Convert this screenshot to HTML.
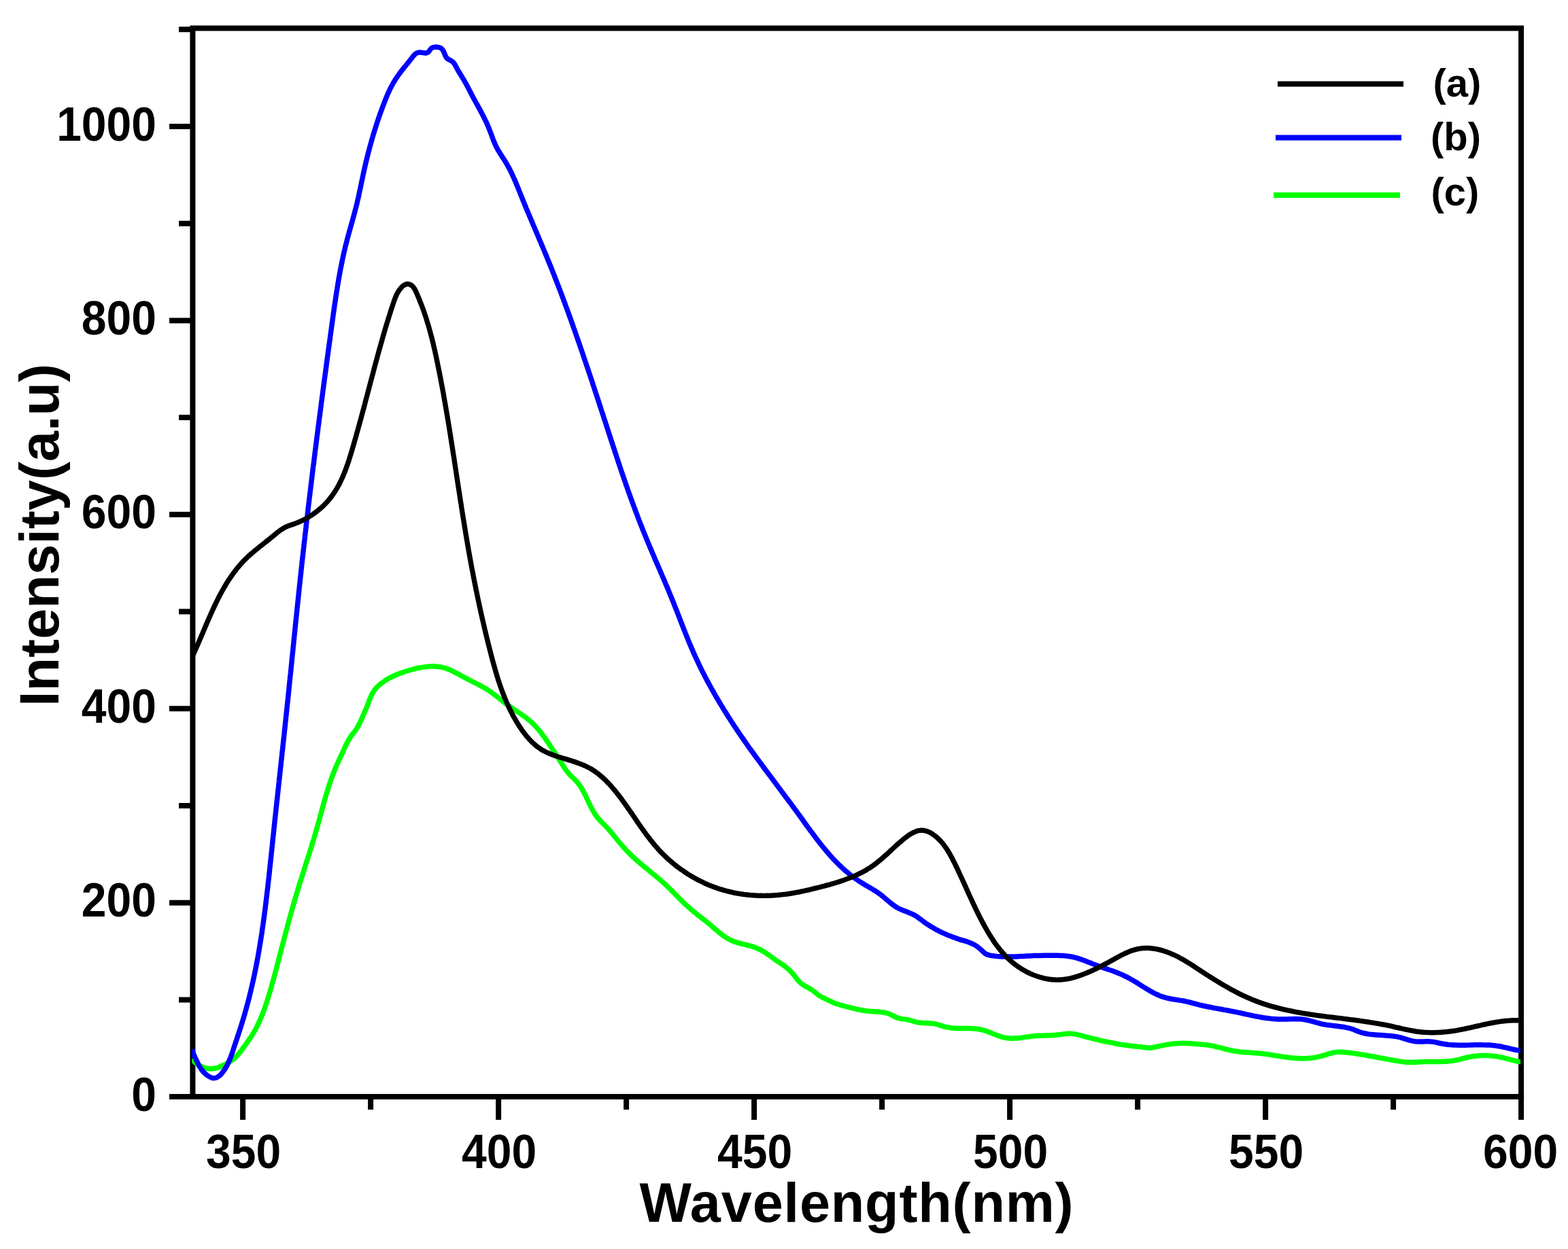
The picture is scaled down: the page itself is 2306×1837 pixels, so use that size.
<!DOCTYPE html>
<html lang="en"><head><meta charset="utf-8"><title>PL spectra</title>
<style>
html,body{margin:0;padding:0;background:#fff;}
body{width:2306px;height:1837px;overflow:hidden;}
svg{display:block;}
text{font-family:"Liberation Sans",sans-serif;font-weight:bold;fill:#000;}
.tick{font-size:69.5px;}
.ttl{font-size:81px;}
.leg{font-size:58px;}
.ax{stroke:#000;stroke-width:8;fill:none;stroke-linecap:butt;}
.c{fill:none;stroke-linejoin:round;stroke-linecap:butt;}
</style></head><body>
<svg width="2306" height="1837" viewBox="0 0 2306 1837">
<rect x="0" y="0" width="2306" height="1837" fill="#fff"/>
<defs><clipPath id="plot"><rect x="282.2" y="41.6" width="1953.9" height="1571.5"/></clipPath></defs>

<path class="ax" d="M283.4 1617.1 V41.6 H2237.1 V1613.1"/>
<path class="ax" d="M249 1613.1 H2241.1"/>
<path class="ax" d="M357.1 1613.1 V1647 M733.1 1613.1 V1647 M1109.1 1613.1 V1647 M1485.1 1613.1 V1647 M1861.1 1613.1 V1647 M2237.1 1613.1 V1647 M545.1 1613.1 V1632 M921.1 1613.1 V1632 M1297.1 1613.1 V1632 M1673.1 1613.1 V1632 M2049.1 1613.1 V1632 M249 1613.1 H283.4 M249 1327.7 H283.4 M249 1042.3 H283.4 M249 756.8 H283.4 M249 471.4 H283.4 M249 186.0 H283.4 M263 1470.4 H283.4 M263 1185.0 H283.4 M263 899.5 H283.4 M263 614.1 H283.4 M263 328.7 H283.4 M263 43.3 H283.4 "/>
<g clip-path="url(#plot)">
<path class="c" stroke="#00ff00" stroke-width="7.5" d="M282.2 1557.5C282.7 1558.1 284.2 1560.0 285.3 1561.2C286.5 1562.4 287.7 1563.5 289.1 1564.5C290.4 1565.5 291.9 1566.4 293.4 1567.3C294.8 1568.1 296.4 1568.8 298.0 1569.5C299.6 1570.1 301.2 1570.6 302.9 1571.0C304.5 1571.4 306.2 1571.7 307.8 1571.8C309.5 1572.0 311.1 1572.0 312.7 1571.8C314.3 1571.7 315.9 1571.4 317.5 1571.0C319.1 1570.6 320.6 1570.0 322.1 1569.4C323.7 1568.9 325.2 1568.2 326.7 1567.5C328.3 1566.8 329.9 1566.1 331.4 1565.4C332.9 1564.7 334.5 1563.9 335.9 1563.1C337.4 1562.3 338.8 1561.4 340.1 1560.4C341.4 1559.4 342.7 1558.4 343.9 1557.3C345.1 1556.2 346.3 1555.1 347.4 1553.9C348.6 1552.7 349.6 1551.5 350.7 1550.2C351.8 1549.0 352.8 1547.7 353.8 1546.4C354.8 1545.1 355.8 1543.7 356.8 1542.4C357.8 1541.0 358.8 1539.7 359.8 1538.3C360.8 1537.0 361.8 1535.6 362.7 1534.3C363.7 1532.9 364.7 1531.5 365.6 1530.1C366.6 1528.8 367.5 1527.4 368.4 1526.0C369.4 1524.6 370.3 1523.2 371.1 1521.7C372.0 1520.3 372.9 1518.9 373.7 1517.4C374.6 1516.0 375.4 1514.5 376.2 1513.1C377.0 1511.6 377.7 1510.1 378.5 1508.6C379.2 1507.2 379.9 1505.7 380.6 1504.2C381.3 1502.7 382.0 1501.1 382.7 1499.6C383.3 1498.1 384.0 1496.6 384.6 1495.0C385.2 1493.5 385.8 1492.0 386.4 1490.4C387.0 1488.9 387.6 1487.3 388.2 1485.7C388.7 1484.2 389.3 1482.6 389.8 1481.1C390.4 1479.5 390.9 1477.9 391.4 1476.3C392.0 1474.8 392.5 1473.2 393.0 1471.6C393.5 1470.0 394.0 1468.4 394.5 1466.8C395.0 1465.2 395.4 1463.7 395.9 1462.1C396.4 1460.5 396.9 1458.9 397.4 1457.3C397.8 1455.7 398.3 1454.1 398.8 1452.5C399.2 1450.9 399.7 1449.3 400.1 1447.7C400.6 1446.1 401.0 1444.5 401.5 1442.9C401.9 1441.3 402.4 1439.7 402.8 1438.0C403.2 1436.4 403.7 1434.8 404.1 1433.2C404.5 1431.6 405.0 1430.0 405.4 1428.4C405.8 1426.8 406.2 1425.2 406.7 1423.6C407.1 1421.9 407.5 1420.3 407.9 1418.7C408.4 1417.1 408.8 1415.5 409.2 1413.9C409.6 1412.3 410.0 1410.6 410.5 1409.0C410.9 1407.4 411.3 1405.8 411.7 1404.2C412.1 1402.6 412.5 1401.0 413.0 1399.3C413.4 1397.7 413.8 1396.1 414.2 1394.5C414.6 1392.9 415.1 1391.3 415.5 1389.7C415.9 1388.0 416.3 1386.4 416.8 1384.8C417.2 1383.2 417.6 1381.6 418.0 1380.0C418.5 1378.4 418.9 1376.8 419.3 1375.1C419.7 1373.5 420.2 1371.9 420.6 1370.3C421.0 1368.7 421.4 1367.1 421.9 1365.5C422.3 1363.9 422.7 1362.3 423.2 1360.6C423.6 1359.0 424.0 1357.4 424.5 1355.8C424.9 1354.2 425.4 1352.6 425.8 1351.0C426.2 1349.4 426.7 1347.8 427.1 1346.2C427.6 1344.6 428.0 1343.0 428.5 1341.4C428.9 1339.8 429.4 1338.2 429.8 1336.6C430.3 1334.9 430.7 1333.3 431.2 1331.7C431.6 1330.1 432.1 1328.5 432.6 1326.9C433.0 1325.3 433.5 1323.7 434.0 1322.1C434.4 1320.5 434.9 1318.9 435.4 1317.3C435.8 1315.8 436.3 1314.2 436.8 1312.6C437.3 1311.0 437.8 1309.4 438.2 1307.8C438.7 1306.2 439.2 1304.6 439.7 1303.0C440.2 1301.4 440.7 1299.8 441.2 1298.2C441.7 1296.6 442.2 1295.0 442.7 1293.5C443.2 1291.9 443.7 1290.3 444.2 1288.7C444.7 1287.1 445.2 1285.5 445.7 1283.9C446.2 1282.3 446.7 1280.8 447.2 1279.2C447.7 1277.6 448.2 1276.0 448.7 1274.4C449.2 1272.8 449.7 1271.2 450.2 1269.6C450.7 1268.1 451.2 1266.5 451.8 1264.9C452.3 1263.3 452.8 1261.7 453.3 1260.1C453.8 1258.5 454.3 1256.9 454.8 1255.4C455.3 1253.8 455.8 1252.2 456.3 1250.6C456.8 1249.0 457.3 1247.4 457.8 1245.8C458.3 1244.2 458.8 1242.6 459.2 1241.0C459.7 1239.4 460.2 1237.9 460.7 1236.3C461.2 1234.7 461.7 1233.1 462.2 1231.5C462.6 1229.9 463.1 1228.3 463.6 1226.7C464.1 1225.1 464.5 1223.5 465.0 1221.9C465.5 1220.3 465.9 1218.7 466.4 1217.1C466.8 1215.5 467.3 1213.9 467.7 1212.2C468.2 1210.6 468.6 1209.0 469.1 1207.4C469.5 1205.8 469.9 1204.2 470.4 1202.6C470.8 1201.0 471.3 1199.4 471.7 1197.8C472.1 1196.1 472.6 1194.5 473.0 1192.9C473.4 1191.3 473.9 1189.7 474.3 1188.1C474.7 1186.5 475.2 1184.9 475.6 1183.3C476.1 1181.7 476.5 1180.0 477.0 1178.4C477.4 1176.8 477.9 1175.2 478.3 1173.6C478.8 1172.0 479.3 1170.4 479.7 1168.8C480.2 1167.2 480.7 1165.6 481.2 1164.0C481.6 1162.5 482.1 1160.9 482.6 1159.3C483.1 1157.7 483.6 1156.1 484.2 1154.5C484.7 1152.9 485.2 1151.4 485.7 1149.8C486.3 1148.2 486.8 1146.7 487.4 1145.1C487.9 1143.5 488.5 1142.0 489.1 1140.4C489.7 1138.9 490.3 1137.3 490.9 1135.8C491.5 1134.2 492.1 1132.7 492.7 1131.1C493.4 1129.6 494.0 1128.1 494.7 1126.5C495.4 1125.0 496.0 1123.5 496.7 1122.0C497.4 1120.5 498.1 1118.9 498.8 1117.4C499.5 1115.9 500.2 1114.4 500.9 1112.9C501.6 1111.4 502.3 1109.9 503.0 1108.3C503.7 1106.8 504.4 1105.3 505.1 1103.8C505.8 1102.3 506.5 1100.7 507.2 1099.2C507.9 1097.7 508.6 1096.2 509.3 1094.7C510.1 1093.2 510.8 1091.7 511.6 1090.2C512.4 1088.8 513.2 1087.3 514.1 1085.9C515.0 1084.5 515.9 1083.2 516.9 1081.8C517.9 1080.5 518.9 1079.2 519.9 1077.9C521.0 1076.6 522.0 1075.3 523.0 1073.9C523.9 1072.6 524.8 1071.2 525.7 1069.8C526.5 1068.4 527.3 1066.9 528.0 1065.4C528.8 1064.0 529.5 1062.5 530.2 1060.9C530.9 1059.4 531.5 1057.9 532.2 1056.4C532.9 1054.8 533.5 1053.3 534.2 1051.8C534.9 1050.2 535.6 1048.7 536.3 1047.2C536.9 1045.6 537.6 1044.1 538.3 1042.6C538.9 1041.1 539.6 1039.5 540.2 1038.0C540.8 1036.4 541.4 1034.8 542.0 1033.3C542.5 1031.7 543.1 1030.2 543.7 1028.6C544.3 1027.1 545.0 1025.6 545.6 1024.1C546.3 1022.6 547.0 1021.1 547.8 1019.7C548.6 1018.3 549.4 1016.8 550.4 1015.5C551.4 1014.1 552.4 1012.8 553.5 1011.6C554.7 1010.3 555.9 1009.1 557.2 1008.0C558.5 1006.8 559.9 1005.7 561.2 1004.7C562.6 1003.7 564.0 1002.7 565.4 1001.7C566.8 1000.8 568.2 999.9 569.6 999.1C571.0 998.2 572.5 997.4 573.9 996.7C575.4 995.9 576.8 995.2 578.3 994.5C579.8 993.8 581.2 993.1 582.7 992.5C584.2 991.9 585.7 991.3 587.3 990.7C588.8 990.1 590.3 989.6 591.9 989.1C593.4 988.5 595.0 988.0 596.6 987.5C598.2 987.0 599.8 986.5 601.4 986.1C603.0 985.6 604.7 985.1 606.3 984.7C608.0 984.2 609.6 983.8 611.3 983.4C613.0 983.0 614.6 982.6 616.3 982.3C618.0 982.0 619.7 981.6 621.4 981.4C623.1 981.1 624.8 980.9 626.5 980.7C628.2 980.5 629.8 980.3 631.5 980.2C633.2 980.1 634.9 980.1 636.6 980.1C638.2 980.1 639.9 980.1 641.5 980.2C643.2 980.4 644.8 980.5 646.4 980.8C648.0 981.0 649.6 981.3 651.2 981.7C652.8 982.1 654.4 982.6 655.9 983.1C657.5 983.6 659.0 984.2 660.5 984.8C662.0 985.4 663.5 986.1 665.0 986.8C666.5 987.5 668.0 988.3 669.5 989.1C671.0 989.8 672.4 990.6 673.9 991.4C675.4 992.2 676.9 993.0 678.3 993.9C679.8 994.7 681.3 995.5 682.8 996.3C684.3 997.1 685.7 997.8 687.2 998.6C688.7 999.4 690.2 1000.1 691.7 1000.9C693.2 1001.6 694.7 1002.4 696.2 1003.1C697.7 1003.9 699.2 1004.6 700.7 1005.4C702.2 1006.1 703.7 1006.9 705.2 1007.7C706.6 1008.5 708.1 1009.2 709.5 1010.0C711.0 1010.9 712.4 1011.7 713.8 1012.5C715.2 1013.4 716.6 1014.2 718.0 1015.1C719.4 1016.0 720.8 1017.0 722.1 1017.9C723.4 1018.9 724.8 1019.9 726.1 1020.9C727.4 1021.9 728.7 1022.9 730.0 1023.9C731.3 1024.9 732.6 1026.0 733.9 1027.0C735.2 1028.0 736.5 1029.1 737.8 1030.1C739.1 1031.1 740.4 1032.2 741.8 1033.2C743.1 1034.2 744.4 1035.2 745.7 1036.2C747.1 1037.2 748.5 1038.1 749.8 1039.1C751.2 1040.1 752.6 1041.0 754.0 1042.0C755.3 1042.9 756.7 1043.8 758.1 1044.8C759.5 1045.7 760.9 1046.6 762.3 1047.6C763.7 1048.5 765.0 1049.5 766.4 1050.4C767.8 1051.4 769.1 1052.3 770.5 1053.3C771.8 1054.3 773.2 1055.3 774.5 1056.3C775.8 1057.3 777.1 1058.3 778.3 1059.4C779.6 1060.5 780.9 1061.6 782.1 1062.7C783.3 1063.8 784.5 1064.9 785.6 1066.1C786.8 1067.3 787.9 1068.5 789.0 1069.8C790.1 1071.0 791.2 1072.2 792.3 1073.5C793.3 1074.8 794.4 1076.1 795.4 1077.4C796.4 1078.7 797.4 1080.1 798.4 1081.4C799.4 1082.8 800.4 1084.1 801.3 1085.5C802.3 1086.8 803.3 1088.2 804.2 1089.6C805.2 1091.0 806.1 1092.3 807.0 1093.7C808.0 1095.1 808.9 1096.5 809.8 1097.8C810.8 1099.2 811.7 1100.6 812.6 1102.0C813.5 1103.4 814.4 1104.7 815.4 1106.1C816.3 1107.5 817.2 1108.9 818.1 1110.3C819.0 1111.7 819.9 1113.1 820.8 1114.5C821.6 1115.9 822.5 1117.3 823.4 1118.7C824.3 1120.1 825.2 1121.5 826.1 1122.9C827.0 1124.3 827.8 1125.8 828.7 1127.2C829.6 1128.6 830.5 1130.0 831.5 1131.3C832.5 1132.7 833.4 1134.0 834.5 1135.3C835.5 1136.6 836.6 1137.9 837.7 1139.1C838.8 1140.4 840.1 1141.5 841.3 1142.7C842.5 1143.9 843.8 1145.0 844.9 1146.2C846.1 1147.3 847.3 1148.5 848.4 1149.8C849.5 1151.0 850.5 1152.3 851.5 1153.7C852.5 1155.0 853.4 1156.3 854.3 1157.7C855.2 1159.1 856.0 1160.6 856.8 1162.0C857.6 1163.4 858.4 1164.9 859.2 1166.4C859.9 1167.9 860.7 1169.4 861.4 1170.9C862.1 1172.4 862.9 1173.9 863.6 1175.4C864.3 1176.9 865.0 1178.5 865.7 1180.0C866.4 1181.5 867.2 1183.0 867.9 1184.5C868.6 1186.0 869.4 1187.5 870.2 1189.0C871.0 1190.5 871.7 1191.9 872.6 1193.4C873.4 1194.8 874.3 1196.2 875.2 1197.6C876.1 1198.9 877.1 1200.3 878.1 1201.6C879.1 1202.9 880.2 1204.2 881.3 1205.4C882.4 1206.7 883.6 1207.8 884.7 1209.0C885.9 1210.2 887.1 1211.4 888.3 1212.6C889.5 1213.8 890.7 1215.0 891.8 1216.2C892.9 1217.4 894.0 1218.7 895.1 1219.9C896.3 1221.2 897.3 1222.4 898.4 1223.7C899.5 1225.0 900.5 1226.3 901.6 1227.6C902.7 1228.9 903.7 1230.2 904.7 1231.4C905.8 1232.7 906.8 1234.0 907.9 1235.3C908.9 1236.6 910.0 1237.9 911.0 1239.2C912.1 1240.5 913.2 1241.7 914.3 1243.0C915.3 1244.3 916.4 1245.5 917.6 1246.7C918.7 1248.0 919.8 1249.2 921.0 1250.4C922.1 1251.6 923.3 1252.8 924.4 1254.0C925.6 1255.2 926.8 1256.3 928.0 1257.5C929.2 1258.6 930.4 1259.8 931.6 1260.9C932.9 1262.1 934.1 1263.2 935.3 1264.3C936.6 1265.4 937.8 1266.5 939.1 1267.6C940.3 1268.7 941.6 1269.8 942.9 1270.9C944.1 1272.0 945.4 1273.0 946.7 1274.1C948.0 1275.2 949.3 1276.2 950.6 1277.3C951.8 1278.3 953.1 1279.4 954.4 1280.4C955.7 1281.5 957.0 1282.5 958.3 1283.6C959.6 1284.6 960.9 1285.7 962.1 1286.7C963.4 1287.8 964.7 1288.9 966.0 1289.9C967.3 1291.0 968.5 1292.0 969.8 1293.1C971.1 1294.2 972.3 1295.3 973.6 1296.4C974.8 1297.5 976.1 1298.6 977.3 1299.7C978.5 1300.8 979.7 1302.0 980.9 1303.1C982.1 1304.3 983.3 1305.4 984.5 1306.6C985.7 1307.8 986.9 1308.9 988.1 1310.1C989.2 1311.3 990.4 1312.5 991.6 1313.7C992.7 1314.9 993.9 1316.1 995.1 1317.3C996.2 1318.5 997.4 1319.7 998.6 1320.8C999.8 1322.0 1000.9 1323.2 1002.1 1324.4C1003.3 1325.6 1004.5 1326.7 1005.7 1327.9C1006.9 1329.0 1008.1 1330.2 1009.3 1331.3C1010.5 1332.4 1011.7 1333.5 1013.0 1334.6C1014.2 1335.7 1015.5 1336.8 1016.7 1337.9C1018.0 1338.9 1019.3 1340.0 1020.5 1341.0C1021.8 1342.1 1023.1 1343.1 1024.4 1344.1C1025.7 1345.2 1027.0 1346.2 1028.3 1347.2C1029.6 1348.2 1030.9 1349.3 1032.2 1350.3C1033.5 1351.3 1034.9 1352.3 1036.2 1353.4C1037.5 1354.4 1038.8 1355.4 1040.1 1356.5C1041.4 1357.5 1042.6 1358.6 1043.9 1359.7C1045.2 1360.8 1046.5 1361.9 1047.8 1362.9C1049.0 1364.0 1050.3 1365.2 1051.6 1366.3C1052.8 1367.4 1054.1 1368.5 1055.4 1369.5C1056.7 1370.6 1058.0 1371.7 1059.3 1372.7C1060.6 1373.8 1061.9 1374.8 1063.2 1375.8C1064.6 1376.7 1065.9 1377.7 1067.3 1378.6C1068.7 1379.5 1070.1 1380.3 1071.5 1381.1C1073.0 1381.9 1074.4 1382.7 1075.9 1383.4C1077.4 1384.0 1079.0 1384.6 1080.5 1385.2C1082.1 1385.7 1083.7 1386.2 1085.3 1386.7C1086.9 1387.2 1088.5 1387.6 1090.2 1388.0C1091.8 1388.4 1093.5 1388.8 1095.1 1389.2C1096.8 1389.6 1098.4 1389.9 1100.0 1390.4C1101.7 1390.8 1103.3 1391.2 1104.9 1391.6C1106.5 1392.1 1108.0 1392.6 1109.6 1393.1C1111.1 1393.7 1112.6 1394.2 1114.1 1394.9C1115.6 1395.5 1117.1 1396.2 1118.5 1397.0C1120.0 1397.7 1121.4 1398.5 1122.8 1399.4C1124.2 1400.3 1125.6 1401.2 1127.0 1402.1C1128.4 1403.1 1129.7 1404.1 1131.1 1405.0C1132.5 1406.0 1133.8 1407.0 1135.2 1408.0C1136.6 1409.0 1138.0 1410.0 1139.3 1411.0C1140.7 1412.0 1142.1 1412.9 1143.5 1413.8C1144.9 1414.8 1146.3 1415.7 1147.7 1416.6C1149.1 1417.5 1150.4 1418.4 1151.8 1419.4C1153.1 1420.3 1154.5 1421.3 1155.8 1422.3C1157.1 1423.4 1158.3 1424.5 1159.5 1425.6C1160.8 1426.7 1161.9 1427.9 1163.1 1429.1C1164.3 1430.3 1165.4 1431.6 1166.5 1432.8C1167.6 1434.1 1168.6 1435.4 1169.7 1436.7C1170.7 1438.0 1171.7 1439.4 1172.7 1440.7C1173.8 1441.9 1174.8 1443.2 1176.0 1444.3C1177.2 1445.5 1178.4 1446.5 1179.8 1447.5C1181.1 1448.4 1182.5 1449.3 1183.9 1450.2C1185.3 1451.0 1186.8 1451.8 1188.3 1452.6C1189.7 1453.5 1191.2 1454.2 1192.6 1455.1C1194.0 1456.0 1195.4 1456.9 1196.7 1457.9C1198.0 1458.9 1199.2 1460.0 1200.5 1461.0C1201.8 1462.1 1203.0 1463.1 1204.4 1464.0C1205.7 1464.9 1207.1 1465.8 1208.5 1466.5C1210.0 1467.3 1211.5 1467.9 1213.0 1468.6C1214.4 1469.4 1216.0 1470.0 1217.5 1470.8C1219.0 1471.5 1220.5 1472.2 1222.0 1472.9C1223.5 1473.6 1225.0 1474.3 1226.5 1475.0C1228.1 1475.6 1229.6 1476.2 1231.2 1476.7C1232.8 1477.2 1234.4 1477.6 1236.0 1478.1C1237.6 1478.6 1239.2 1479.0 1240.8 1479.4C1242.4 1479.8 1244.0 1480.3 1245.6 1480.7C1247.2 1481.1 1248.8 1481.5 1250.4 1481.9C1252.1 1482.4 1253.7 1482.8 1255.3 1483.1C1256.9 1483.5 1258.6 1483.9 1260.2 1484.3C1261.8 1484.6 1263.5 1485.0 1265.1 1485.3C1266.7 1485.6 1268.4 1485.9 1270.0 1486.2C1271.6 1486.4 1273.3 1486.7 1274.9 1486.9C1276.6 1487.1 1278.2 1487.2 1279.9 1487.4C1281.6 1487.5 1283.2 1487.6 1284.9 1487.7C1286.5 1487.8 1288.2 1487.9 1289.8 1488.0C1291.5 1488.1 1293.1 1488.2 1294.7 1488.4C1296.4 1488.5 1298.0 1488.7 1299.6 1489.0C1301.2 1489.3 1302.8 1489.6 1304.4 1490.1C1305.9 1490.6 1307.5 1491.1 1309.0 1491.8C1310.5 1492.4 1312.0 1493.3 1313.5 1494.0C1315.0 1494.8 1316.5 1495.7 1318.0 1496.3C1319.6 1497.0 1321.1 1497.5 1322.7 1497.9C1324.3 1498.3 1326.0 1498.4 1327.6 1498.7C1329.2 1498.9 1330.9 1499.0 1332.6 1499.3C1334.2 1499.6 1335.8 1499.9 1337.4 1500.3C1339.0 1500.7 1340.6 1501.3 1342.2 1501.7C1343.8 1502.2 1345.4 1502.7 1347.0 1503.1C1348.6 1503.5 1350.2 1503.8 1351.8 1504.0C1353.4 1504.2 1355.0 1504.4 1356.6 1504.5C1358.2 1504.6 1359.8 1504.7 1361.5 1504.7C1363.1 1504.8 1364.7 1504.8 1366.3 1504.9C1368.0 1505.0 1369.6 1505.1 1371.2 1505.3C1372.8 1505.5 1374.4 1505.7 1376.0 1506.1C1377.6 1506.4 1379.2 1506.9 1380.8 1507.4C1382.4 1507.9 1384.0 1508.5 1385.7 1509.0C1387.3 1509.5 1388.9 1510.0 1390.5 1510.4C1392.1 1510.8 1393.7 1511.1 1395.4 1511.3C1397.0 1511.6 1398.7 1511.8 1400.3 1512.0C1402.0 1512.1 1403.6 1512.2 1405.3 1512.3C1406.9 1512.4 1408.6 1512.4 1410.3 1512.5C1411.9 1512.5 1413.6 1512.5 1415.3 1512.5C1416.9 1512.5 1418.6 1512.5 1420.3 1512.5C1421.9 1512.5 1423.6 1512.5 1425.3 1512.6C1426.9 1512.6 1428.6 1512.6 1430.2 1512.7C1431.9 1512.8 1433.5 1512.9 1435.2 1513.1C1436.8 1513.3 1438.5 1513.5 1440.1 1513.8C1441.7 1514.1 1443.3 1514.4 1444.9 1514.8C1446.5 1515.2 1448.1 1515.7 1449.7 1516.2C1451.3 1516.8 1452.9 1517.4 1454.5 1518.0C1456.0 1518.6 1457.6 1519.2 1459.2 1519.9C1460.8 1520.5 1462.3 1521.2 1463.9 1521.8C1465.5 1522.4 1467.0 1523.0 1468.6 1523.6C1470.2 1524.2 1471.8 1524.7 1473.4 1525.2C1475.0 1525.6 1476.6 1526.0 1478.2 1526.3C1479.8 1526.6 1481.4 1526.8 1483.0 1527.0C1484.7 1527.1 1486.3 1527.2 1488.0 1527.2C1489.6 1527.2 1491.3 1527.2 1493.0 1527.1C1494.6 1527.0 1496.3 1526.9 1498.0 1526.7C1499.6 1526.5 1501.3 1526.3 1503.0 1526.1C1504.7 1525.9 1506.3 1525.7 1508.0 1525.4C1509.7 1525.2 1511.4 1525.0 1513.1 1524.7C1514.7 1524.5 1516.4 1524.3 1518.1 1524.1C1519.8 1523.9 1521.4 1523.8 1523.1 1523.6C1524.7 1523.5 1526.4 1523.4 1528.0 1523.3C1529.7 1523.3 1531.3 1523.2 1533.0 1523.2C1534.6 1523.1 1536.3 1523.1 1537.9 1523.0C1539.6 1523.0 1541.2 1522.9 1542.8 1522.9C1544.5 1522.8 1546.1 1522.8 1547.7 1522.6C1549.4 1522.5 1551.0 1522.4 1552.7 1522.3C1554.3 1522.1 1556.0 1521.9 1557.6 1521.7C1559.2 1521.5 1560.9 1521.3 1562.5 1521.1C1564.2 1520.8 1565.8 1520.6 1567.5 1520.5C1569.1 1520.3 1570.7 1520.2 1572.4 1520.2C1574.0 1520.2 1575.7 1520.2 1577.3 1520.4C1578.9 1520.5 1580.6 1520.8 1582.2 1521.1C1583.8 1521.5 1585.4 1521.9 1587.1 1522.3C1588.7 1522.7 1590.3 1523.2 1591.9 1523.6C1593.5 1524.0 1595.2 1524.4 1596.8 1524.9C1598.4 1525.3 1600.0 1525.7 1601.6 1526.1C1603.3 1526.5 1604.9 1526.9 1606.5 1527.3C1608.1 1527.7 1609.7 1528.1 1611.4 1528.5C1613.0 1528.9 1614.6 1529.3 1616.2 1529.7C1617.9 1530.0 1619.5 1530.4 1621.1 1530.8C1622.7 1531.2 1624.4 1531.5 1626.0 1531.9C1627.6 1532.2 1629.2 1532.6 1630.9 1532.9C1632.5 1533.2 1634.1 1533.6 1635.8 1533.9C1637.4 1534.2 1639.0 1534.5 1640.7 1534.8C1642.3 1535.1 1643.9 1535.4 1645.6 1535.7C1647.2 1536.0 1648.9 1536.2 1650.5 1536.5C1652.1 1536.7 1653.8 1537.0 1655.4 1537.2C1657.1 1537.5 1658.8 1537.7 1660.4 1537.9C1662.1 1538.1 1663.7 1538.3 1665.4 1538.5C1667.0 1538.7 1668.7 1538.8 1670.4 1539.0C1672.0 1539.2 1673.7 1539.3 1675.4 1539.5C1677.0 1539.7 1678.7 1539.9 1680.3 1540.2C1682.0 1540.4 1683.6 1540.7 1685.2 1540.8C1686.9 1541.0 1688.5 1541.2 1690.1 1541.2C1691.7 1541.1 1693.3 1541.0 1694.9 1540.7C1696.5 1540.5 1698.1 1540.1 1699.7 1539.7C1701.3 1539.4 1702.9 1539.0 1704.5 1538.7C1706.1 1538.3 1707.8 1538.0 1709.4 1537.7C1711.0 1537.3 1712.7 1537.0 1714.3 1536.7C1716.0 1536.5 1717.6 1536.2 1719.3 1535.9C1720.9 1535.7 1722.6 1535.5 1724.2 1535.3C1725.9 1535.1 1727.5 1534.9 1729.2 1534.8C1730.9 1534.6 1732.5 1534.5 1734.2 1534.5C1735.8 1534.4 1737.5 1534.3 1739.1 1534.3C1740.8 1534.3 1742.4 1534.3 1744.1 1534.4C1745.7 1534.5 1747.4 1534.6 1749.0 1534.7C1750.7 1534.8 1752.3 1534.9 1754.0 1535.0C1755.6 1535.1 1757.3 1535.3 1758.9 1535.4C1760.6 1535.6 1762.2 1535.7 1763.9 1535.8C1765.5 1536.0 1767.2 1536.1 1768.9 1536.3C1770.5 1536.4 1772.2 1536.6 1773.8 1536.8C1775.5 1537.0 1777.1 1537.2 1778.8 1537.5C1780.4 1537.7 1782.1 1538.1 1783.7 1538.4C1785.3 1538.7 1786.9 1539.1 1788.6 1539.5C1790.2 1539.9 1791.8 1540.3 1793.4 1540.7C1795.0 1541.1 1796.6 1541.5 1798.3 1541.9C1799.9 1542.3 1801.5 1542.8 1803.1 1543.2C1804.7 1543.6 1806.3 1544.0 1807.9 1544.3C1809.6 1544.7 1811.2 1545.0 1812.8 1545.4C1814.4 1545.7 1816.1 1546.0 1817.7 1546.2C1819.3 1546.5 1821.0 1546.7 1822.6 1546.9C1824.3 1547.1 1825.9 1547.2 1827.6 1547.4C1829.2 1547.5 1830.9 1547.7 1832.5 1547.8C1834.2 1547.9 1835.9 1548.0 1837.5 1548.1C1839.2 1548.3 1840.8 1548.4 1842.5 1548.5C1844.2 1548.6 1845.8 1548.7 1847.5 1548.8C1849.1 1549.0 1850.8 1549.1 1852.5 1549.3C1854.1 1549.4 1855.8 1549.6 1857.4 1549.8C1859.1 1550.0 1860.7 1550.2 1862.4 1550.4C1864.0 1550.6 1865.7 1550.9 1867.3 1551.1C1869.0 1551.4 1870.6 1551.6 1872.3 1551.9C1873.9 1552.2 1875.5 1552.4 1877.2 1552.7C1878.8 1553.0 1880.5 1553.2 1882.1 1553.5C1883.8 1553.8 1885.4 1554.0 1887.1 1554.3C1888.7 1554.5 1890.4 1554.8 1892.0 1555.0C1893.7 1555.2 1895.3 1555.4 1897.0 1555.6C1898.7 1555.8 1900.3 1555.9 1902.0 1556.1C1903.6 1556.2 1905.3 1556.4 1907.0 1556.5C1908.6 1556.6 1910.3 1556.6 1912.0 1556.7C1913.6 1556.7 1915.3 1556.7 1917.0 1556.7C1918.6 1556.7 1920.3 1556.6 1921.9 1556.6C1923.6 1556.5 1925.3 1556.3 1926.9 1556.2C1928.6 1556.0 1930.2 1555.8 1931.8 1555.6C1933.5 1555.4 1935.1 1555.1 1936.8 1554.8C1938.4 1554.5 1940.0 1554.1 1941.6 1553.7C1943.2 1553.3 1944.9 1552.8 1946.5 1552.3C1948.1 1551.9 1949.7 1551.3 1951.3 1550.8C1952.9 1550.3 1954.5 1549.8 1956.1 1549.4C1957.7 1548.9 1959.3 1548.5 1960.9 1548.2C1962.5 1547.8 1964.1 1547.6 1965.7 1547.4C1967.3 1547.2 1969.0 1547.2 1970.6 1547.2C1972.3 1547.2 1973.9 1547.3 1975.6 1547.4C1977.2 1547.5 1978.9 1547.7 1980.5 1547.9C1982.1 1548.1 1983.8 1548.3 1985.4 1548.5C1987.1 1548.7 1988.7 1548.9 1990.4 1549.1C1992.0 1549.4 1993.6 1549.6 1995.3 1549.9C1996.9 1550.1 1998.6 1550.4 2000.2 1550.6C2001.8 1550.9 2003.5 1551.1 2005.1 1551.4C2006.7 1551.7 2008.4 1552.0 2010.0 1552.3C2011.6 1552.6 2013.3 1552.8 2014.9 1553.1C2016.5 1553.4 2018.2 1553.7 2019.8 1554.0C2021.4 1554.4 2023.1 1554.7 2024.7 1555.0C2026.3 1555.3 2028.0 1555.6 2029.6 1555.9C2031.3 1556.2 2032.9 1556.5 2034.5 1556.8C2036.2 1557.1 2037.8 1557.4 2039.4 1557.8C2041.1 1558.1 2042.7 1558.4 2044.4 1558.6C2046.0 1558.9 2047.7 1559.2 2049.3 1559.5C2050.9 1559.8 2052.6 1560.1 2054.2 1560.3C2055.9 1560.6 2057.5 1560.9 2059.2 1561.1C2060.8 1561.4 2062.5 1561.6 2064.1 1561.8C2065.8 1562.0 2067.4 1562.2 2069.0 1562.3C2070.7 1562.4 2072.3 1562.5 2073.9 1562.6C2075.6 1562.6 2077.2 1562.6 2078.8 1562.5C2080.4 1562.5 2082.0 1562.3 2083.7 1562.2C2085.3 1562.1 2086.9 1561.9 2088.5 1561.8C2090.1 1561.7 2091.8 1561.6 2093.4 1561.6C2095.1 1561.5 2096.7 1561.5 2098.4 1561.5C2100.0 1561.5 2101.7 1561.5 2103.4 1561.5C2105.0 1561.5 2106.7 1561.5 2108.4 1561.5C2110.0 1561.5 2111.7 1561.5 2113.4 1561.5C2115.0 1561.5 2116.7 1561.5 2118.4 1561.4C2120.1 1561.4 2121.7 1561.4 2123.4 1561.3C2125.1 1561.2 2126.7 1561.2 2128.4 1561.0C2130.1 1560.9 2131.7 1560.8 2133.4 1560.6C2135.0 1560.4 2136.7 1560.2 2138.3 1559.9C2139.9 1559.6 2141.6 1559.3 2143.2 1558.9C2144.8 1558.6 2146.4 1558.2 2148.0 1557.8C2149.7 1557.3 2151.3 1556.9 2152.9 1556.5C2154.5 1556.1 2156.1 1555.6 2157.7 1555.3C2159.4 1554.9 2161.0 1554.6 2162.7 1554.3C2164.3 1554.0 2165.9 1553.7 2167.6 1553.5C2169.3 1553.3 2170.9 1553.1 2172.6 1552.9C2174.2 1552.8 2175.9 1552.7 2177.6 1552.6C2179.2 1552.5 2180.9 1552.5 2182.6 1552.5C2184.2 1552.5 2185.9 1552.5 2187.6 1552.6C2189.3 1552.6 2190.9 1552.7 2192.6 1552.9C2194.2 1553.0 2195.9 1553.2 2197.6 1553.4C2199.2 1553.6 2200.9 1553.8 2202.5 1554.1C2204.1 1554.4 2205.8 1554.7 2207.4 1555.0C2209.0 1555.3 2210.6 1555.7 2212.2 1556.1C2213.9 1556.5 2215.5 1556.9 2217.1 1557.3C2218.7 1557.7 2220.3 1558.2 2221.9 1558.6C2223.5 1559.0 2225.1 1559.4 2226.7 1559.8C2228.3 1560.2 2229.9 1560.6 2231.5 1561.0C2233.1 1561.3 2235.4 1561.7 2236.4 1561.9C2237.3 1562.1 2236.9 1562.0 2237.0 1562.0"/>
<path class="c" stroke="#0000ff" stroke-width="7.5" d="M282.2 1543.0C282.4 1543.8 283.1 1546.1 283.7 1547.6C284.3 1549.2 284.9 1550.8 285.6 1552.4C286.3 1553.9 287.0 1555.5 287.7 1557.1C288.4 1558.6 289.2 1560.2 289.9 1561.7C290.6 1563.2 291.3 1564.6 292.1 1566.0C292.8 1567.5 293.5 1568.8 294.4 1570.2C295.2 1571.5 296.1 1572.8 297.1 1574.1C298.1 1575.4 299.2 1576.7 300.5 1578.0C301.8 1579.2 303.2 1580.5 304.7 1581.6C306.2 1582.7 307.8 1583.7 309.4 1584.4C310.9 1585.1 312.6 1585.6 314.1 1585.7C315.6 1585.8 317.1 1585.5 318.5 1584.9C319.9 1584.4 321.2 1583.4 322.5 1582.4C323.7 1581.4 324.9 1580.1 326.0 1578.8C327.1 1577.5 328.1 1576.1 329.1 1574.8C330.1 1573.4 331.0 1572.0 331.9 1570.5C332.7 1569.1 333.5 1567.7 334.3 1566.2C335.0 1564.7 335.7 1563.2 336.4 1561.7C337.1 1560.2 337.7 1558.7 338.4 1557.1C339.0 1555.6 339.5 1554.0 340.1 1552.4C340.7 1550.9 341.2 1549.3 341.8 1547.7C342.3 1546.1 342.8 1544.6 343.3 1543.0C343.9 1541.4 344.4 1539.8 344.9 1538.2C345.4 1536.6 346.0 1535.0 346.5 1533.4C347.0 1531.9 347.5 1530.3 348.1 1528.7C348.6 1527.1 349.1 1525.5 349.7 1523.9C350.2 1522.3 350.7 1520.7 351.2 1519.2C351.7 1517.6 352.3 1516.0 352.8 1514.4C353.3 1512.8 353.8 1511.2 354.3 1509.6C354.8 1508.0 355.3 1506.4 355.8 1504.8C356.3 1503.2 356.8 1501.7 357.3 1500.1C357.8 1498.5 358.3 1496.9 358.7 1495.3C359.2 1493.7 359.7 1492.1 360.1 1490.5C360.6 1488.9 361.0 1487.3 361.5 1485.7C361.9 1484.1 362.4 1482.4 362.8 1480.8C363.3 1479.2 363.7 1477.6 364.1 1476.0C364.6 1474.4 365.0 1472.8 365.4 1471.2C365.8 1469.6 366.2 1468.0 366.6 1466.3C367.0 1464.7 367.4 1463.1 367.8 1461.5C368.2 1459.9 368.6 1458.3 369.0 1456.7C369.4 1455.0 369.8 1453.4 370.1 1451.8C370.5 1450.2 370.9 1448.6 371.2 1446.9C371.6 1445.3 372.0 1443.7 372.3 1442.1C372.7 1440.4 373.0 1438.8 373.4 1437.2C373.7 1435.6 374.1 1433.9 374.4 1432.3C374.7 1430.7 375.1 1429.0 375.4 1427.4C375.7 1425.8 376.1 1424.2 376.4 1422.5C376.7 1420.9 377.0 1419.3 377.3 1417.6C377.6 1416.0 377.9 1414.4 378.3 1412.7C378.6 1411.1 378.9 1409.4 379.2 1407.8C379.5 1406.2 379.7 1404.5 380.0 1402.9C380.3 1401.3 380.6 1399.6 380.9 1398.0C381.2 1396.3 381.4 1394.7 381.7 1393.1C382.0 1391.4 382.3 1389.8 382.5 1388.1C382.8 1386.5 383.1 1384.8 383.3 1383.2C383.6 1381.6 383.9 1379.9 384.1 1378.3C384.4 1376.6 384.6 1375.0 384.9 1373.3C385.1 1371.7 385.4 1370.0 385.6 1368.4C385.8 1366.7 386.1 1365.1 386.3 1363.4C386.6 1361.8 386.8 1360.1 387.0 1358.5C387.3 1356.8 387.5 1355.2 387.7 1353.5C387.9 1351.9 388.2 1350.2 388.4 1348.6C388.6 1346.9 388.8 1345.3 389.0 1343.6C389.3 1342.0 389.5 1340.3 389.7 1338.7C389.9 1337.0 390.1 1335.4 390.3 1333.7C390.5 1332.0 390.7 1330.4 390.9 1328.7C391.1 1327.1 391.3 1325.4 391.5 1323.8C391.7 1322.1 391.9 1320.4 392.1 1318.8C392.3 1317.1 392.5 1315.5 392.7 1313.8C392.9 1312.2 393.1 1310.5 393.3 1308.8C393.5 1307.2 393.7 1305.5 393.9 1303.9C394.1 1302.2 394.2 1300.6 394.4 1298.9C394.6 1297.2 394.8 1295.6 395.0 1293.9C395.2 1292.3 395.4 1290.6 395.5 1288.9C395.7 1287.3 395.9 1285.6 396.1 1284.0C396.3 1282.3 396.4 1280.6 396.6 1279.0C396.8 1277.3 397.0 1275.7 397.1 1274.0C397.3 1272.3 397.5 1270.7 397.7 1269.0C397.8 1267.4 398.0 1265.7 398.2 1264.0C398.4 1262.4 398.5 1260.7 398.7 1259.1C398.9 1257.4 399.1 1255.7 399.2 1254.1C399.4 1252.4 399.6 1250.8 399.8 1249.1C399.9 1247.4 400.1 1245.8 400.3 1244.1C400.4 1242.5 400.6 1240.8 400.8 1239.1C401.0 1237.5 401.1 1235.8 401.3 1234.2C401.5 1232.5 401.7 1230.8 401.8 1229.2C402.0 1227.5 402.2 1225.9 402.4 1224.2C402.5 1222.5 402.7 1220.9 402.9 1219.2C403.1 1217.6 403.2 1215.9 403.4 1214.2C403.6 1212.6 403.8 1210.9 403.9 1209.3C404.1 1207.6 404.3 1206.0 404.5 1204.3C404.6 1202.6 404.8 1201.0 405.0 1199.3C405.2 1197.7 405.4 1196.0 405.5 1194.4C405.7 1192.7 405.9 1191.0 406.1 1189.4C406.2 1187.7 406.4 1186.1 406.6 1184.4C406.8 1182.8 407.0 1181.1 407.1 1179.4C407.3 1177.8 407.5 1176.1 407.7 1174.5C407.9 1172.8 408.0 1171.2 408.2 1169.5C408.4 1167.9 408.6 1166.2 408.8 1164.5C408.9 1162.9 409.1 1161.2 409.3 1159.6C409.5 1157.9 409.7 1156.3 409.8 1154.6C410.0 1152.9 410.2 1151.3 410.4 1149.6C410.5 1148.0 410.7 1146.3 410.9 1144.7C411.1 1143.0 411.3 1141.4 411.4 1139.7C411.6 1138.0 411.8 1136.4 412.0 1134.7C412.2 1133.1 412.3 1131.4 412.5 1129.8C412.7 1128.1 412.9 1126.5 413.1 1124.8C413.2 1123.1 413.4 1121.5 413.6 1119.8C413.8 1118.2 414.0 1116.5 414.1 1114.9C414.3 1113.2 414.5 1111.6 414.7 1109.9C414.9 1108.2 415.0 1106.6 415.2 1104.9C415.4 1103.3 415.6 1101.6 415.8 1100.0C415.9 1098.3 416.1 1096.7 416.3 1095.0C416.5 1093.4 416.7 1091.7 416.8 1090.0C417.0 1088.4 417.2 1086.7 417.4 1085.1C417.5 1083.4 417.7 1081.8 417.9 1080.1C418.1 1078.5 418.3 1076.8 418.4 1075.1C418.6 1073.5 418.8 1071.8 419.0 1070.2C419.1 1068.5 419.3 1066.9 419.5 1065.2C419.7 1063.6 419.8 1061.9 420.0 1060.2C420.2 1058.6 420.4 1056.9 420.5 1055.3C420.7 1053.6 420.9 1052.0 421.1 1050.3C421.2 1048.6 421.4 1047.0 421.6 1045.3C421.8 1043.7 421.9 1042.0 422.1 1040.4C422.3 1038.7 422.5 1037.1 422.6 1035.4C422.8 1033.7 423.0 1032.1 423.2 1030.4C423.3 1028.8 423.5 1027.1 423.7 1025.5C423.8 1023.8 424.0 1022.1 424.2 1020.5C424.4 1018.8 424.5 1017.2 424.7 1015.5C424.9 1013.9 425.0 1012.2 425.2 1010.5C425.4 1008.9 425.6 1007.2 425.7 1005.6C425.9 1003.9 426.1 1002.2 426.2 1000.6C426.4 998.9 426.6 997.3 426.7 995.6C426.9 994.0 427.1 992.3 427.3 990.6C427.4 989.0 427.6 987.3 427.8 985.7C427.9 984.0 428.1 982.4 428.3 980.7C428.4 979.0 428.6 977.4 428.8 975.7C428.9 974.1 429.1 972.4 429.3 970.7C429.4 969.1 429.6 967.4 429.8 965.8C430.0 964.1 430.1 962.5 430.3 960.8C430.5 959.1 430.6 957.5 430.8 955.8C431.0 954.2 431.1 952.5 431.3 950.8C431.5 949.2 431.6 947.5 431.8 945.9C432.0 944.2 432.1 942.6 432.3 940.9C432.5 939.2 432.6 937.6 432.8 935.9C433.0 934.3 433.2 932.6 433.3 930.9C433.5 929.3 433.7 927.6 433.8 926.0C434.0 924.3 434.2 922.7 434.3 921.0C434.5 919.3 434.7 917.7 434.8 916.0C435.0 914.4 435.2 912.7 435.4 911.0C435.5 909.4 435.7 907.7 435.9 906.1C436.0 904.4 436.2 902.7 436.4 901.1C436.5 899.4 436.7 897.8 436.9 896.1C437.1 894.5 437.2 892.8 437.4 891.1C437.6 889.5 437.8 887.8 437.9 886.2C438.1 884.5 438.3 882.8 438.4 881.2C438.6 879.5 438.8 877.9 439.0 876.2C439.1 874.6 439.3 872.9 439.5 871.2C439.7 869.6 439.8 867.9 440.0 866.3C440.2 864.6 440.4 863.0 440.5 861.3C440.7 859.6 440.9 858.0 441.1 856.3C441.2 854.7 441.4 853.0 441.6 851.3C441.8 849.7 441.9 848.0 442.1 846.4C442.3 844.7 442.5 843.1 442.7 841.4C442.8 839.7 443.0 838.1 443.2 836.4C443.4 834.8 443.6 833.1 443.7 831.5C443.9 829.8 444.1 828.1 444.3 826.5C444.5 824.8 444.6 823.2 444.8 821.5C445.0 819.9 445.2 818.2 445.4 816.5C445.6 814.9 445.7 813.2 445.9 811.6C446.1 809.9 446.3 808.3 446.5 806.6C446.7 804.9 446.9 803.3 447.0 801.6C447.2 800.0 447.4 798.3 447.6 796.7C447.8 795.0 448.0 793.4 448.2 791.7C448.3 790.0 448.5 788.4 448.7 786.7C448.9 785.1 449.1 783.4 449.3 781.8C449.5 780.1 449.7 778.5 449.9 776.8C450.1 775.1 450.2 773.5 450.4 771.8C450.6 770.2 450.8 768.5 451.0 766.9C451.2 765.2 451.4 763.6 451.6 761.9C451.8 760.2 452.0 758.6 452.2 756.9C452.4 755.3 452.6 753.6 452.8 752.0C452.9 750.3 453.1 748.7 453.3 747.0C453.5 745.3 453.7 743.7 453.9 742.0C454.1 740.4 454.3 738.7 454.5 737.1C454.7 735.4 454.9 733.8 455.1 732.1C455.3 730.5 455.5 728.8 455.7 727.1C455.9 725.5 456.1 723.8 456.3 722.2C456.5 720.5 456.7 718.9 456.9 717.2C457.1 715.6 457.3 713.9 457.5 712.3C457.7 710.6 457.9 708.9 458.1 707.3C458.3 705.6 458.5 704.0 458.7 702.3C458.9 700.7 459.1 699.0 459.3 697.4C459.5 695.7 459.7 694.1 459.9 692.4C460.1 690.7 460.3 689.1 460.5 687.4C460.7 685.8 460.9 684.1 461.2 682.5C461.4 680.8 461.6 679.2 461.8 677.5C462.0 675.9 462.2 674.2 462.4 672.6C462.6 670.9 462.8 669.3 463.0 667.6C463.2 665.9 463.4 664.3 463.6 662.6C463.8 661.0 464.0 659.3 464.3 657.7C464.5 656.0 464.7 654.4 464.9 652.7C465.1 651.1 465.3 649.4 465.5 647.8C465.7 646.1 465.9 644.5 466.1 642.8C466.4 641.1 466.6 639.5 466.8 637.8C467.0 636.2 467.2 634.5 467.4 632.9C467.6 631.2 467.8 629.6 468.0 627.9C468.3 626.3 468.5 624.6 468.7 623.0C468.9 621.3 469.1 619.7 469.3 618.0C469.5 616.4 469.7 614.7 470.0 613.0C470.2 611.4 470.4 609.7 470.6 608.1C470.8 606.4 471.0 604.8 471.3 603.1C471.5 601.5 471.7 599.8 471.9 598.2C472.1 596.5 472.3 594.9 472.5 593.2C472.8 591.6 473.0 589.9 473.2 588.3C473.4 586.6 473.6 585.0 473.8 583.3C474.1 581.7 474.3 580.0 474.5 578.3C474.7 576.7 474.9 575.0 475.2 573.4C475.4 571.7 475.6 570.1 475.8 568.4C476.0 566.8 476.2 565.1 476.5 563.5C476.7 561.8 476.9 560.2 477.1 558.5C477.3 556.9 477.6 555.2 477.8 553.6C478.0 551.9 478.2 550.3 478.5 548.6C478.7 547.0 478.9 545.3 479.1 543.7C479.3 542.0 479.6 540.4 479.8 538.7C480.0 537.0 480.2 535.4 480.4 533.7C480.7 532.1 480.9 530.4 481.1 528.8C481.3 527.1 481.6 525.5 481.8 523.8C482.0 522.2 482.2 520.5 482.5 518.9C482.7 517.2 482.9 515.6 483.1 513.9C483.4 512.3 483.6 510.6 483.8 509.0C484.0 507.3 484.2 505.7 484.5 504.0C484.7 502.4 484.9 500.7 485.2 499.1C485.4 497.4 485.6 495.8 485.8 494.1C486.1 492.5 486.3 490.8 486.5 489.2C486.7 487.5 487.0 485.8 487.2 484.2C487.4 482.5 487.6 480.9 487.9 479.2C488.1 477.6 488.3 475.9 488.5 474.3C488.8 472.6 489.0 471.0 489.2 469.3C489.5 467.7 489.7 466.0 489.9 464.4C490.1 462.7 490.4 461.1 490.6 459.4C490.8 457.8 491.1 456.1 491.3 454.5C491.5 452.8 491.8 451.2 492.0 449.5C492.3 447.9 492.5 446.2 492.7 444.6C493.0 442.9 493.2 441.3 493.5 439.6C493.7 438.0 494.0 436.3 494.2 434.7C494.5 433.0 494.7 431.4 495.0 429.8C495.2 428.1 495.5 426.5 495.8 424.8C496.0 423.2 496.3 421.5 496.6 419.9C496.8 418.2 497.1 416.6 497.4 415.0C497.7 413.3 497.9 411.7 498.2 410.0C498.5 408.4 498.8 406.8 499.1 405.1C499.4 403.5 499.7 401.8 500.0 400.2C500.3 398.6 500.6 396.9 500.9 395.3C501.2 393.7 501.6 392.0 501.9 390.4C502.2 388.8 502.5 387.1 502.9 385.5C503.2 383.9 503.5 382.2 503.9 380.6C504.2 379.0 504.6 377.4 504.9 375.7C505.3 374.1 505.7 372.5 506.0 370.9C506.4 369.2 506.8 367.6 507.2 366.0C507.6 364.4 507.9 362.7 508.3 361.1C508.7 359.5 509.1 357.9 509.6 356.3C510.0 354.7 510.4 353.0 510.8 351.4C511.2 349.8 511.7 348.2 512.1 346.6C512.5 345.0 513.0 343.4 513.4 341.8C513.9 340.2 514.3 338.6 514.8 336.9C515.2 335.3 515.7 333.7 516.1 332.1C516.6 330.5 517.0 328.9 517.5 327.3C517.9 325.7 518.4 324.1 518.8 322.5C519.3 320.9 519.7 319.3 520.2 317.7C520.6 316.0 521.0 314.4 521.5 312.8C521.9 311.2 522.3 309.6 522.7 308.0C523.2 306.4 523.6 304.7 524.0 303.1C524.4 301.5 524.8 299.9 525.2 298.3C525.5 296.7 525.9 295.0 526.3 293.4C526.7 291.8 527.0 290.2 527.4 288.5C527.7 286.9 528.1 285.3 528.4 283.7C528.8 282.0 529.1 280.4 529.5 278.8C529.8 277.1 530.2 275.5 530.5 273.9C530.9 272.3 531.2 270.6 531.5 269.0C531.9 267.4 532.2 265.7 532.6 264.1C532.9 262.5 533.2 260.8 533.6 259.2C533.9 257.6 534.3 256.0 534.6 254.3C535.0 252.7 535.4 251.1 535.7 249.4C536.1 247.8 536.4 246.2 536.8 244.6C537.2 242.9 537.6 241.3 538.0 239.7C538.3 238.1 538.7 236.5 539.1 234.8C539.5 233.2 539.9 231.6 540.3 230.0C540.7 228.4 541.1 226.7 541.5 225.1C542.0 223.5 542.4 221.9 542.8 220.3C543.2 218.7 543.7 217.1 544.1 215.4C544.5 213.8 545.0 212.2 545.4 210.6C545.9 209.0 546.3 207.4 546.8 205.8C547.2 204.2 547.7 202.6 548.2 201.0C548.7 199.4 549.1 197.8 549.6 196.2C550.1 194.6 550.6 193.0 551.1 191.4C551.6 189.8 552.1 188.3 552.6 186.7C553.1 185.1 553.6 183.5 554.1 181.9C554.6 180.3 555.1 178.7 555.7 177.2C556.2 175.6 556.7 174.0 557.3 172.4C557.8 170.9 558.4 169.3 558.9 167.7C559.5 166.2 560.0 164.6 560.6 163.0C561.2 161.5 561.7 159.9 562.3 158.4C562.9 156.8 563.5 155.2 564.1 153.7C564.7 152.1 565.2 150.6 565.9 149.0C566.5 147.5 567.1 146.0 567.7 144.4C568.3 142.9 569.0 141.3 569.6 139.8C570.3 138.3 570.9 136.8 571.6 135.3C572.3 133.8 573.0 132.3 573.7 130.8C574.5 129.3 575.2 127.8 576.0 126.4C576.8 124.9 577.6 123.4 578.4 122.0C579.3 120.6 580.1 119.2 581.0 117.7C581.9 116.3 582.8 114.9 583.7 113.6C584.7 112.2 585.9 110.4 586.6 109.5C587.2 108.5 587.4 108.4 587.7 107.9C588.1 107.3 588.5 106.8 588.9 106.3C589.3 105.8 589.7 105.2 590.1 104.7C590.5 104.2 590.9 103.7 591.3 103.1C591.7 102.6 592.2 102.1 592.6 101.6C593.0 101.1 593.4 100.6 593.8 100.1C594.2 99.5 594.6 99.0 595.0 98.5C595.5 98.0 595.9 97.5 596.3 97.0C596.7 96.5 597.1 96.0 597.5 95.5C598.0 94.9 598.4 94.4 598.8 93.9C599.2 93.4 599.6 92.9 600.1 92.4C600.5 91.8 600.9 91.3 601.3 90.8C601.7 90.3 602.2 89.7 602.6 89.2C603.0 88.7 603.4 88.1 603.8 87.6C604.3 87.0 604.7 86.5 605.1 86.0C605.5 85.4 605.9 84.8 606.4 84.3C606.8 83.7 607.2 83.2 607.6 82.7C608.1 82.1 608.5 81.6 609.0 81.1C609.4 80.6 609.9 80.2 610.4 79.8C610.9 79.3 611.4 78.9 611.9 78.6C612.4 78.2 613.0 77.9 613.5 77.7C614.1 77.5 614.7 77.3 615.4 77.2C616.0 77.1 616.7 77.0 617.4 77.0C618.0 77.0 618.8 77.1 619.5 77.2C620.2 77.3 621.0 77.4 621.7 77.5C622.5 77.6 623.2 77.8 623.9 77.8C624.6 77.9 625.3 78.0 626.0 78.0C626.7 77.9 627.3 77.9 627.9 77.7C628.5 77.5 629.0 77.3 629.5 76.9C630.0 76.6 630.4 76.1 630.8 75.6C631.2 75.1 631.5 74.5 631.9 73.9C632.3 73.4 632.7 72.8 633.2 72.3C633.6 71.7 634.1 71.3 634.6 70.9C635.2 70.5 635.8 70.2 636.4 69.9C637.0 69.7 637.7 69.5 638.4 69.4C639.1 69.2 639.8 69.2 640.5 69.1C641.2 69.1 642.0 69.1 642.7 69.2C643.4 69.2 644.1 69.3 644.8 69.5C645.4 69.6 646.1 69.8 646.7 70.0C647.3 70.3 647.9 70.6 648.5 70.9C649.0 71.2 649.5 71.6 649.9 72.1C650.4 72.5 650.8 73.0 651.1 73.5C651.5 74.1 651.8 74.6 652.1 75.2C652.4 75.8 652.7 76.5 653.0 77.1C653.3 77.8 653.5 78.4 653.8 79.1C654.1 79.7 654.3 80.4 654.6 81.0C654.9 81.6 655.2 82.3 655.5 82.9C655.8 83.5 656.2 84.0 656.5 84.6C656.9 85.1 657.4 85.6 657.8 86.0C658.3 86.5 658.9 86.8 659.4 87.2C660.0 87.6 660.6 87.9 661.2 88.2C661.8 88.5 662.4 88.8 663.0 89.1C663.6 89.4 664.2 89.7 664.8 90.1C665.3 90.5 665.8 90.9 666.3 91.4C666.8 91.8 667.2 92.3 667.6 92.8C668.0 93.4 668.3 93.9 668.7 94.5C669.1 95.1 669.4 95.7 669.7 96.3C670.0 96.9 670.3 97.5 670.6 98.1C671.0 98.7 671.3 99.3 671.6 99.9C671.9 100.5 672.2 101.1 672.6 101.7C672.9 102.3 673.2 102.9 673.6 103.5C673.9 104.1 674.2 104.6 674.6 105.2C674.9 105.8 675.2 106.3 675.6 106.9C675.9 107.5 676.3 108.0 676.6 108.6C677.0 109.1 677.3 109.7 677.7 110.3C678.0 110.8 678.3 111.4 678.7 111.9C679.0 112.5 679.1 112.6 679.7 113.6C680.3 114.6 681.4 116.4 682.3 117.8C683.1 119.2 683.9 120.7 684.7 122.1C685.5 123.6 686.3 125.1 687.1 126.5C687.9 128.0 688.7 129.5 689.5 131.0C690.2 132.5 691.0 134.0 691.8 135.5C692.6 137.0 693.3 138.5 694.1 139.9C694.9 141.4 695.7 142.9 696.5 144.4C697.3 145.9 698.1 147.3 698.9 148.8C699.7 150.3 700.5 151.7 701.3 153.2C702.1 154.6 702.9 156.1 703.7 157.6C704.5 159.0 705.3 160.5 706.1 161.9C706.8 163.4 707.6 164.9 708.4 166.3C709.2 167.8 709.9 169.3 710.7 170.7C711.4 172.2 712.2 173.7 712.9 175.2C713.6 176.7 714.4 178.2 715.1 179.7C715.8 181.2 716.5 182.7 717.1 184.2C717.8 185.8 718.4 187.3 719.1 188.8C719.7 190.4 720.3 191.9 720.9 193.5C721.5 195.1 722.1 196.7 722.7 198.2C723.2 199.8 723.8 201.4 724.4 203.0C725.0 204.5 725.6 206.1 726.2 207.7C726.9 209.2 727.5 210.8 728.2 212.3C728.9 213.8 729.6 215.3 730.3 216.8C731.1 218.3 731.9 219.7 732.7 221.2C733.6 222.6 734.4 224.0 735.3 225.4C736.2 226.8 737.1 228.2 738.0 229.6C738.9 231.0 739.8 232.4 740.7 233.8C741.6 235.2 742.5 236.6 743.4 238.0C744.2 239.4 745.1 240.9 745.9 242.3C746.8 243.8 747.6 245.2 748.3 246.7C749.1 248.1 749.9 249.6 750.6 251.1C751.4 252.6 752.1 254.1 752.8 255.6C753.5 257.1 754.2 258.6 754.9 260.1C755.6 261.6 756.3 263.2 756.9 264.7C757.6 266.2 758.2 267.7 758.9 269.3C759.5 270.8 760.2 272.3 760.8 273.9C761.4 275.4 762.0 277.0 762.7 278.5C763.3 280.1 763.9 281.6 764.5 283.1C765.1 284.7 765.8 286.2 766.4 287.8C767.0 289.3 767.6 290.9 768.2 292.4C768.9 293.9 769.5 295.5 770.1 297.0C770.8 298.6 771.4 300.1 772.0 301.7C772.7 303.2 773.3 304.7 773.9 306.3C774.6 307.8 775.2 309.3 775.9 310.9C776.5 312.4 777.1 314.0 777.8 315.5C778.4 317.0 779.1 318.6 779.7 320.1C780.4 321.6 781.0 323.2 781.7 324.7C782.3 326.2 783.0 327.8 783.6 329.3C784.3 330.8 784.9 332.4 785.6 333.9C786.2 335.4 786.9 337.0 787.5 338.5C788.2 340.0 788.8 341.6 789.5 343.1C790.1 344.6 790.8 346.2 791.4 347.7C792.1 349.2 792.7 350.8 793.4 352.3C794.0 353.8 794.7 355.4 795.3 356.9C796.0 358.4 796.6 360.0 797.3 361.5C797.9 363.0 798.6 364.6 799.2 366.1C799.8 367.6 800.5 369.2 801.1 370.7C801.8 372.3 802.4 373.8 803.0 375.3C803.7 376.9 804.3 378.4 804.9 379.9C805.6 381.5 806.2 383.0 806.8 384.6C807.5 386.1 808.1 387.7 808.7 389.2C809.3 390.7 810.0 392.3 810.6 393.8C811.2 395.4 811.8 396.9 812.4 398.5C813.1 400.0 813.7 401.6 814.3 403.1C814.9 404.7 815.5 406.2 816.1 407.8C816.7 409.3 817.3 410.9 817.9 412.4C818.5 414.0 819.1 415.5 819.7 417.1C820.3 418.6 820.9 420.2 821.5 421.7C822.1 423.3 822.7 424.9 823.3 426.4C823.9 428.0 824.5 429.5 825.1 431.1C825.7 432.6 826.3 434.2 826.8 435.8C827.4 437.3 828.0 438.9 828.6 440.4C829.2 442.0 829.8 443.6 830.3 445.1C830.9 446.7 831.5 448.3 832.1 449.8C832.6 451.4 833.2 452.9 833.8 454.5C834.4 456.1 834.9 457.6 835.5 459.2C836.1 460.8 836.6 462.3 837.2 463.9C837.8 465.5 838.3 467.0 838.9 468.6C839.5 470.2 840.0 471.7 840.6 473.3C841.1 474.9 841.7 476.4 842.3 478.0C842.8 479.6 843.4 481.2 843.9 482.7C844.5 484.3 845.0 485.9 845.6 487.4C846.1 489.0 846.7 490.6 847.2 492.2C847.8 493.7 848.3 495.3 848.9 496.9C849.4 498.5 850.0 500.0 850.5 501.6C851.1 503.2 851.6 504.7 852.2 506.3C852.7 507.9 853.3 509.5 853.8 511.1C854.3 512.6 854.9 514.2 855.4 515.8C856.0 517.4 856.5 518.9 857.0 520.5C857.6 522.1 858.1 523.7 858.6 525.2C859.2 526.8 859.7 528.4 860.2 530.0C860.8 531.6 861.3 533.1 861.8 534.7C862.4 536.3 862.9 537.9 863.4 539.5C864.0 541.0 864.5 542.6 865.0 544.2C865.5 545.8 866.1 547.4 866.6 548.9C867.1 550.5 867.7 552.1 868.2 553.7C868.7 555.3 869.2 556.8 869.8 558.4C870.3 560.0 870.8 561.6 871.3 563.2C871.9 564.7 872.4 566.3 872.9 567.9C873.4 569.5 873.9 571.1 874.5 572.7C875.0 574.2 875.5 575.8 876.0 577.4C876.5 579.0 877.1 580.6 877.6 582.2C878.1 583.7 878.6 585.3 879.1 586.9C879.7 588.5 880.2 590.1 880.7 591.7C881.2 593.2 881.7 594.8 882.2 596.4C882.8 598.0 883.3 599.6 883.8 601.1C884.3 602.7 884.8 604.3 885.3 605.9C885.8 607.5 886.4 609.1 886.9 610.6C887.4 612.2 887.9 613.8 888.4 615.4C888.9 617.0 889.5 618.6 890.0 620.1C890.5 621.7 891.0 623.3 891.5 624.9C892.0 626.5 892.5 628.1 893.1 629.6C893.6 631.2 894.1 632.8 894.6 634.4C895.1 636.0 895.6 637.6 896.1 639.1C896.7 640.7 897.2 642.3 897.7 643.9C898.2 645.5 898.7 647.0 899.2 648.6C899.8 650.2 900.3 651.8 900.8 653.4C901.3 654.9 901.8 656.5 902.3 658.1C902.9 659.7 903.4 661.3 903.9 662.8C904.4 664.4 904.9 666.0 905.5 667.6C906.0 669.2 906.5 670.7 907.0 672.3C907.5 673.9 908.1 675.5 908.6 677.1C909.1 678.6 909.6 680.2 910.2 681.8C910.7 683.4 911.2 684.9 911.7 686.5C912.3 688.1 912.8 689.7 913.3 691.2C913.9 692.8 914.4 694.4 914.9 696.0C915.5 697.5 916.0 699.1 916.5 700.7C917.1 702.3 917.6 703.8 918.2 705.4C918.7 707.0 919.2 708.5 919.8 710.1C920.3 711.7 920.9 713.3 921.4 714.8C922.0 716.4 922.5 718.0 923.1 719.5C923.6 721.1 924.2 722.7 924.7 724.2C925.3 725.8 925.9 727.4 926.4 728.9C927.0 730.5 927.5 732.1 928.1 733.6C928.7 735.2 929.2 736.8 929.8 738.3C930.4 739.9 931.0 741.4 931.5 743.0C932.1 744.6 932.7 746.1 933.3 747.7C933.8 749.2 934.4 750.8 935.0 752.4C935.6 753.9 936.2 755.5 936.8 757.0C937.4 758.6 938.0 760.1 938.5 761.7C939.1 763.2 939.7 764.8 940.3 766.3C940.9 767.9 941.5 769.5 942.1 771.0C942.8 772.6 943.4 774.1 944.0 775.6C944.6 777.2 945.2 778.7 945.8 780.3C946.4 781.8 947.1 783.4 947.7 784.9C948.3 786.5 948.9 788.0 949.6 789.6C950.2 791.1 950.8 792.6 951.5 794.2C952.1 795.7 952.7 797.3 953.4 798.8C954.0 800.3 954.7 801.9 955.3 803.4C956.0 804.9 956.6 806.5 957.3 808.0C957.9 809.5 958.6 811.1 959.2 812.6C959.9 814.1 960.5 815.7 961.2 817.2C961.8 818.7 962.5 820.3 963.1 821.8C963.8 823.3 964.5 824.9 965.1 826.4C965.8 827.9 966.4 829.4 967.1 831.0C967.8 832.5 968.4 834.0 969.1 835.6C969.7 837.1 970.4 838.6 971.1 840.2C971.7 841.7 972.4 843.2 973.0 844.7C973.7 846.3 974.4 847.8 975.0 849.3C975.7 850.9 976.3 852.4 977.0 853.9C977.6 855.5 978.3 857.0 978.9 858.5C979.6 860.1 980.2 861.6 980.9 863.1C981.5 864.7 982.2 866.2 982.8 867.7C983.5 869.3 984.1 870.8 984.7 872.4C985.4 873.9 986.0 875.4 986.6 877.0C987.3 878.5 987.9 880.1 988.5 881.6C989.2 883.1 989.8 884.7 990.4 886.2C991.0 887.8 991.6 889.3 992.2 890.9C992.8 892.4 993.5 894.0 994.1 895.5C994.7 897.1 995.3 898.6 995.9 900.2C996.5 901.7 997.1 903.3 997.7 904.8C998.3 906.4 998.9 907.9 999.5 909.5C1000.1 911.0 1000.7 912.6 1001.3 914.1C1001.9 915.7 1002.5 917.2 1003.1 918.8C1003.7 920.3 1004.3 921.9 1004.9 923.4C1005.5 925.0 1006.1 926.5 1006.8 928.1C1007.4 929.6 1008.0 931.1 1008.6 932.7C1009.2 934.2 1009.8 935.8 1010.5 937.3C1011.1 938.9 1011.7 940.4 1012.3 941.9C1013.0 943.5 1013.6 945.0 1014.2 946.5C1014.9 948.1 1015.5 949.6 1016.2 951.1C1016.8 952.7 1017.5 954.2 1018.1 955.7C1018.8 957.2 1019.5 958.8 1020.1 960.3C1020.8 961.8 1021.5 963.3 1022.2 964.8C1022.9 966.4 1023.6 967.9 1024.3 969.4C1025.0 970.9 1025.7 972.4 1026.4 973.9C1027.1 975.4 1027.8 976.9 1028.5 978.4C1029.3 979.9 1030.0 981.4 1030.7 982.9C1031.5 984.4 1032.2 985.9 1032.9 987.4C1033.7 988.9 1034.5 990.3 1035.2 991.8C1036.0 993.3 1036.7 994.8 1037.5 996.3C1038.3 997.7 1039.1 999.2 1039.8 1000.7C1040.6 1002.2 1041.4 1003.6 1042.2 1005.1C1043.0 1006.6 1043.8 1008.0 1044.6 1009.5C1045.4 1010.9 1046.2 1012.4 1047.0 1013.9C1047.8 1015.3 1048.7 1016.8 1049.5 1018.2C1050.3 1019.7 1051.1 1021.1 1052.0 1022.6C1052.8 1024.0 1053.6 1025.5 1054.5 1026.9C1055.3 1028.3 1056.2 1029.8 1057.0 1031.2C1057.9 1032.7 1058.7 1034.1 1059.6 1035.5C1060.4 1036.9 1061.3 1038.4 1062.2 1039.8C1063.1 1041.2 1063.9 1042.6 1064.8 1044.1C1065.7 1045.5 1066.6 1046.9 1067.5 1048.3C1068.3 1049.7 1069.2 1051.1 1070.1 1052.6C1071.0 1054.0 1071.9 1055.4 1072.8 1056.8C1073.7 1058.2 1074.6 1059.6 1075.5 1061.0C1076.4 1062.4 1077.4 1063.8 1078.3 1065.2C1079.2 1066.6 1080.1 1068.0 1081.0 1069.3C1081.9 1070.7 1082.9 1072.1 1083.8 1073.5C1084.7 1074.9 1085.7 1076.3 1086.6 1077.7C1087.5 1079.0 1088.5 1080.4 1089.4 1081.8C1090.4 1083.2 1091.3 1084.5 1092.3 1085.9C1093.2 1087.3 1094.1 1088.6 1095.1 1090.0C1096.1 1091.4 1097.0 1092.7 1098.0 1094.1C1098.9 1095.4 1099.9 1096.8 1100.8 1098.2C1101.8 1099.5 1102.8 1100.9 1103.7 1102.2C1104.7 1103.6 1105.7 1104.9 1106.7 1106.3C1107.6 1107.6 1108.6 1108.9 1109.6 1110.3C1110.6 1111.6 1111.5 1113.0 1112.5 1114.3C1113.5 1115.7 1114.5 1117.0 1115.5 1118.3C1116.4 1119.7 1117.4 1121.0 1118.4 1122.3C1119.4 1123.7 1120.4 1125.0 1121.4 1126.3C1122.4 1127.7 1123.3 1129.0 1124.3 1130.3C1125.3 1131.7 1126.3 1133.0 1127.3 1134.3C1128.3 1135.7 1129.3 1137.0 1130.3 1138.3C1131.3 1139.7 1132.3 1141.0 1133.3 1142.3C1134.3 1143.6 1135.3 1145.0 1136.3 1146.3C1137.3 1147.6 1138.3 1149.0 1139.3 1150.3C1140.3 1151.6 1141.2 1152.9 1142.2 1154.3C1143.2 1155.6 1144.2 1156.9 1145.2 1158.3C1146.2 1159.6 1147.2 1160.9 1148.2 1162.2C1149.2 1163.6 1150.2 1164.9 1151.2 1166.2C1152.2 1167.6 1153.2 1168.9 1154.2 1170.2C1155.2 1171.6 1156.2 1172.9 1157.2 1174.2C1158.2 1175.6 1159.2 1176.9 1160.2 1178.2C1161.2 1179.6 1162.2 1180.9 1163.2 1182.2C1164.2 1183.6 1165.2 1184.9 1166.1 1186.3C1167.1 1187.6 1168.1 1189.0 1169.1 1190.3C1170.1 1191.6 1171.1 1193.0 1172.1 1194.3C1173.1 1195.7 1174.0 1197.0 1175.0 1198.4C1176.0 1199.7 1177.0 1201.1 1178.0 1202.5C1179.0 1203.8 1179.9 1205.2 1180.9 1206.5C1181.9 1207.9 1182.9 1209.2 1183.8 1210.6C1184.8 1212.0 1185.8 1213.3 1186.8 1214.7C1187.8 1216.0 1188.8 1217.4 1189.7 1218.7C1190.7 1220.1 1191.7 1221.4 1192.7 1222.8C1193.7 1224.1 1194.7 1225.5 1195.7 1226.8C1196.7 1228.2 1197.7 1229.5 1198.7 1230.8C1199.7 1232.2 1200.7 1233.5 1201.7 1234.8C1202.7 1236.1 1203.8 1237.5 1204.8 1238.8C1205.8 1240.1 1206.8 1241.4 1207.9 1242.7C1208.9 1244.0 1210.0 1245.3 1211.0 1246.6C1212.1 1247.9 1213.1 1249.2 1214.2 1250.4C1215.2 1251.7 1216.3 1253.0 1217.4 1254.2C1218.5 1255.5 1219.6 1256.7 1220.7 1258.0C1221.8 1259.2 1222.9 1260.4 1224.0 1261.7C1225.1 1262.9 1226.2 1264.1 1227.4 1265.3C1228.5 1266.5 1229.6 1267.7 1230.8 1268.8C1232.0 1270.0 1233.1 1271.2 1234.3 1272.3C1235.5 1273.5 1236.7 1274.6 1237.9 1275.7C1239.1 1276.9 1240.3 1278.0 1241.5 1279.1C1242.8 1280.2 1244.0 1281.3 1245.3 1282.3C1246.5 1283.4 1247.8 1284.5 1249.1 1285.5C1250.4 1286.5 1251.7 1287.6 1253.0 1288.6C1254.3 1289.6 1255.6 1290.6 1257.0 1291.6C1258.3 1292.5 1259.7 1293.5 1261.1 1294.4C1262.4 1295.4 1263.8 1296.3 1265.3 1297.2C1266.7 1298.1 1268.1 1299.0 1269.5 1299.9C1271.0 1300.7 1272.5 1301.6 1273.9 1302.4C1275.4 1303.3 1276.8 1304.2 1278.3 1305.0C1279.8 1305.9 1281.2 1306.7 1282.7 1307.6C1284.1 1308.5 1285.6 1309.3 1287.0 1310.2C1288.4 1311.1 1289.8 1312.1 1291.2 1313.0C1292.6 1314.0 1294.0 1314.9 1295.3 1315.9C1296.6 1317.0 1297.9 1318.0 1299.2 1319.1C1300.5 1320.1 1301.8 1321.2 1303.0 1322.3C1304.3 1323.4 1305.5 1324.5 1306.8 1325.6C1308.1 1326.6 1309.3 1327.7 1310.6 1328.7C1311.9 1329.7 1313.2 1330.8 1314.5 1331.7C1315.9 1332.7 1317.2 1333.6 1318.6 1334.4C1320.0 1335.2 1321.5 1336.0 1323.0 1336.7C1324.5 1337.5 1326.0 1338.1 1327.6 1338.7C1329.1 1339.4 1330.7 1340.0 1332.3 1340.6C1333.8 1341.2 1335.4 1341.8 1337.0 1342.4C1338.5 1343.1 1340.1 1343.7 1341.6 1344.4C1343.1 1345.1 1344.6 1345.9 1346.0 1346.7C1347.4 1347.6 1348.8 1348.5 1350.1 1349.4C1351.5 1350.4 1352.8 1351.4 1354.2 1352.4C1355.5 1353.4 1356.8 1354.4 1358.1 1355.4C1359.5 1356.4 1360.8 1357.3 1362.2 1358.3C1363.6 1359.2 1365.0 1360.1 1366.4 1361.0C1367.8 1361.9 1369.2 1362.8 1370.6 1363.7C1372.0 1364.5 1373.5 1365.3 1374.9 1366.2C1376.4 1367.0 1377.9 1367.8 1379.3 1368.5C1380.8 1369.3 1382.3 1370.1 1383.8 1370.8C1385.3 1371.5 1386.8 1372.2 1388.3 1372.9C1389.9 1373.6 1391.4 1374.3 1392.9 1374.9C1394.5 1375.6 1396.0 1376.2 1397.6 1376.8C1399.1 1377.4 1400.7 1378.0 1402.3 1378.6C1403.8 1379.2 1405.4 1379.7 1407.0 1380.2C1408.6 1380.8 1410.1 1381.3 1411.7 1381.8C1413.3 1382.3 1414.9 1382.8 1416.5 1383.2C1418.1 1383.7 1419.7 1384.2 1421.3 1384.7C1422.9 1385.2 1424.4 1385.7 1426.0 1386.4C1427.5 1387.0 1429.0 1387.6 1430.5 1388.3C1432.0 1389.1 1433.5 1389.9 1434.9 1390.7C1436.3 1391.6 1437.7 1392.6 1439.0 1393.6C1440.4 1394.7 1441.6 1395.9 1442.9 1397.1C1444.2 1398.2 1445.4 1399.6 1446.7 1400.6C1448.0 1401.7 1449.3 1402.7 1450.7 1403.5C1452.2 1404.2 1453.8 1404.6 1455.3 1405.0C1456.9 1405.4 1458.6 1405.6 1460.2 1405.8C1461.8 1406.0 1463.5 1406.2 1465.1 1406.4C1466.8 1406.6 1468.4 1406.7 1470.1 1406.8C1471.7 1406.9 1473.4 1407.0 1475.0 1407.0C1476.7 1407.1 1478.4 1407.1 1480.0 1407.2C1481.7 1407.2 1483.4 1407.2 1485.0 1407.1C1486.7 1407.1 1488.4 1407.1 1490.0 1407.0C1491.7 1407.0 1493.4 1406.9 1495.0 1406.9C1496.7 1406.8 1498.4 1406.7 1500.0 1406.6C1501.7 1406.6 1503.4 1406.5 1505.0 1406.4C1506.7 1406.3 1508.4 1406.2 1510.0 1406.1C1511.7 1406.0 1513.3 1405.9 1515.0 1405.9C1516.6 1405.8 1518.2 1405.7 1519.9 1405.6C1521.5 1405.6 1523.1 1405.5 1524.8 1405.5C1526.4 1405.4 1528.0 1405.4 1529.6 1405.4C1531.2 1405.3 1532.8 1405.3 1534.4 1405.3C1536.1 1405.3 1537.7 1405.3 1539.3 1405.3C1540.9 1405.3 1542.5 1405.2 1544.1 1405.2C1545.8 1405.2 1547.4 1405.2 1549.0 1405.2C1550.6 1405.2 1552.3 1405.2 1553.9 1405.2C1555.6 1405.3 1557.2 1405.3 1558.8 1405.4C1560.5 1405.4 1562.1 1405.5 1563.7 1405.6C1565.4 1405.7 1567.0 1405.9 1568.6 1406.1C1570.2 1406.2 1571.9 1406.5 1573.5 1406.7C1575.1 1407.0 1576.7 1407.3 1578.3 1407.7C1579.9 1408.1 1581.5 1408.5 1583.1 1408.9C1584.6 1409.4 1586.2 1409.8 1587.8 1410.4C1589.4 1410.9 1590.9 1411.4 1592.5 1412.0C1594.1 1412.5 1595.6 1413.1 1597.2 1413.7C1598.8 1414.3 1600.3 1414.9 1601.9 1415.6C1603.4 1416.2 1605.0 1416.8 1606.6 1417.4C1608.1 1418.0 1609.7 1418.7 1611.2 1419.3C1612.8 1419.9 1614.4 1420.5 1615.9 1421.1C1617.5 1421.7 1619.1 1422.2 1620.7 1422.8C1622.2 1423.3 1623.8 1423.9 1625.4 1424.4C1627.0 1424.9 1628.6 1425.4 1630.1 1426.0C1631.7 1426.5 1633.3 1427.0 1634.8 1427.5C1636.4 1428.1 1638.0 1428.6 1639.5 1429.2C1641.1 1429.8 1642.6 1430.4 1644.1 1431.0C1645.6 1431.6 1647.2 1432.2 1648.7 1432.9C1650.2 1433.6 1651.6 1434.2 1653.1 1435.0C1654.6 1435.7 1656.1 1436.4 1657.5 1437.1C1659.0 1437.9 1660.5 1438.7 1661.9 1439.5C1663.3 1440.3 1664.8 1441.1 1666.2 1441.9C1667.6 1442.8 1669.0 1443.6 1670.5 1444.5C1671.9 1445.3 1673.3 1446.2 1674.7 1447.1C1676.1 1448.0 1677.5 1448.9 1678.9 1449.8C1680.3 1450.7 1681.7 1451.5 1683.1 1452.4C1684.5 1453.3 1685.9 1454.2 1687.4 1455.0C1688.8 1455.9 1690.2 1456.7 1691.6 1457.5C1693.1 1458.4 1694.5 1459.2 1696.0 1459.9C1697.4 1460.7 1698.9 1461.4 1700.4 1462.1C1701.9 1462.9 1703.4 1463.5 1704.9 1464.2C1706.4 1464.8 1708.0 1465.4 1709.5 1465.9C1711.1 1466.4 1712.7 1466.9 1714.3 1467.4C1715.9 1467.8 1717.5 1468.2 1719.1 1468.5C1720.8 1468.9 1722.4 1469.2 1724.1 1469.5C1725.8 1469.8 1727.5 1470.0 1729.1 1470.3C1730.8 1470.5 1732.5 1470.8 1734.2 1471.1C1735.8 1471.3 1737.5 1471.6 1739.2 1471.9C1740.8 1472.2 1742.5 1472.5 1744.1 1472.9C1745.7 1473.2 1747.4 1473.6 1749.0 1474.0C1750.6 1474.4 1752.2 1474.9 1753.8 1475.3C1755.4 1475.7 1757.0 1476.2 1758.6 1476.6C1760.1 1477.0 1761.7 1477.4 1763.4 1477.8C1765.0 1478.2 1766.6 1478.6 1768.2 1479.0C1769.8 1479.3 1771.4 1479.7 1773.0 1480.0C1774.7 1480.4 1776.3 1480.7 1777.9 1481.0C1779.5 1481.4 1781.2 1481.7 1782.8 1482.0C1784.4 1482.3 1786.1 1482.6 1787.7 1482.9C1789.3 1483.2 1791.0 1483.5 1792.6 1483.8C1794.3 1484.1 1795.9 1484.4 1797.5 1484.7C1799.2 1485.0 1800.8 1485.3 1802.5 1485.6C1804.1 1485.9 1805.8 1486.2 1807.4 1486.5C1809.0 1486.8 1810.7 1487.1 1812.3 1487.5C1814.0 1487.8 1815.6 1488.1 1817.2 1488.4C1818.9 1488.8 1820.5 1489.1 1822.1 1489.4C1823.8 1489.8 1825.4 1490.1 1827.0 1490.5C1828.7 1490.8 1830.3 1491.2 1831.9 1491.6C1833.6 1491.9 1835.2 1492.3 1836.8 1492.6C1838.5 1493.0 1840.1 1493.3 1841.7 1493.7C1843.3 1494.0 1845.0 1494.3 1846.6 1494.7C1848.2 1495.0 1849.9 1495.3 1851.5 1495.6C1853.1 1495.9 1854.8 1496.2 1856.4 1496.5C1858.1 1496.7 1859.7 1497.0 1861.3 1497.2C1863.0 1497.5 1864.6 1497.7 1866.3 1497.9C1867.9 1498.1 1869.6 1498.3 1871.2 1498.4C1872.9 1498.6 1874.5 1498.7 1876.2 1498.8C1877.8 1498.9 1879.5 1499.0 1881.2 1499.0C1882.8 1499.1 1884.5 1499.1 1886.2 1499.1C1887.8 1499.1 1889.5 1499.0 1891.2 1499.0C1892.9 1498.9 1894.5 1498.9 1896.2 1498.8C1897.9 1498.8 1899.6 1498.7 1901.2 1498.7C1902.9 1498.6 1904.6 1498.6 1906.2 1498.6C1907.9 1498.7 1909.5 1498.7 1911.2 1498.8C1912.8 1498.9 1914.5 1499.0 1916.1 1499.2C1917.7 1499.4 1919.3 1499.7 1920.9 1500.0C1922.5 1500.3 1924.1 1500.7 1925.7 1501.1C1927.3 1501.5 1928.9 1501.9 1930.5 1502.4C1932.1 1502.8 1933.7 1503.3 1935.3 1503.7C1936.8 1504.2 1938.4 1504.6 1940.0 1505.0C1941.6 1505.5 1943.3 1505.8 1944.9 1506.2C1946.5 1506.5 1948.1 1506.8 1949.8 1507.1C1951.4 1507.3 1953.0 1507.6 1954.7 1507.8C1956.3 1508.0 1958.0 1508.2 1959.6 1508.4C1961.3 1508.6 1962.9 1508.8 1964.6 1509.0C1966.2 1509.2 1967.9 1509.4 1969.5 1509.6C1971.1 1509.8 1972.8 1510.0 1974.4 1510.3C1976.0 1510.5 1977.6 1510.8 1979.2 1511.1C1980.8 1511.4 1982.4 1511.8 1984.0 1512.2C1985.6 1512.6 1987.2 1513.1 1988.7 1513.6C1990.3 1514.2 1991.9 1514.8 1993.4 1515.4C1995.0 1516.0 1996.6 1516.6 1998.1 1517.2C1999.7 1517.8 2001.3 1518.3 2002.9 1518.8C2004.5 1519.2 2006.1 1519.6 2007.7 1520.0C2009.3 1520.3 2011.0 1520.6 2012.6 1520.9C2014.2 1521.1 2015.9 1521.4 2017.5 1521.5C2019.2 1521.7 2020.8 1521.9 2022.5 1522.0C2024.1 1522.1 2025.8 1522.2 2027.5 1522.3C2029.1 1522.4 2030.8 1522.5 2032.4 1522.6C2034.1 1522.7 2035.8 1522.8 2037.4 1522.9C2039.1 1523.0 2040.8 1523.1 2042.4 1523.3C2044.1 1523.4 2045.7 1523.6 2047.4 1523.8C2049.0 1523.9 2050.7 1524.2 2052.3 1524.4C2054.0 1524.7 2055.6 1525.0 2057.2 1525.4C2058.8 1525.7 2060.4 1526.1 2062.0 1526.6C2063.6 1527.1 2065.2 1527.6 2066.8 1528.1C2068.4 1528.6 2070.0 1529.1 2071.6 1529.6C2073.2 1530.1 2074.8 1530.5 2076.4 1530.9C2078.0 1531.2 2079.7 1531.5 2081.3 1531.7C2082.9 1531.8 2084.6 1531.9 2086.3 1532.0C2087.9 1532.0 2089.6 1532.0 2091.3 1532.0C2092.9 1531.9 2094.6 1531.9 2096.3 1531.8C2097.9 1531.8 2099.6 1531.8 2101.3 1531.8C2102.9 1531.9 2104.6 1531.9 2106.2 1532.1C2107.8 1532.3 2109.4 1532.6 2111.0 1532.9C2112.6 1533.2 2114.2 1533.6 2115.8 1534.0C2117.4 1534.3 2119.0 1534.7 2120.6 1535.0C2122.2 1535.3 2123.8 1535.6 2125.4 1535.8C2127.0 1536.1 2128.7 1536.3 2130.3 1536.4C2131.9 1536.6 2133.6 1536.7 2135.2 1536.8C2136.8 1537.0 2138.5 1537.0 2140.1 1537.1C2141.8 1537.2 2143.5 1537.2 2145.1 1537.2C2146.8 1537.2 2148.5 1537.2 2150.1 1537.2C2151.8 1537.2 2153.5 1537.2 2155.1 1537.2C2156.8 1537.1 2158.5 1537.1 2160.2 1537.1C2161.8 1537.0 2163.5 1537.0 2165.2 1536.9C2166.9 1536.9 2168.6 1536.8 2170.2 1536.8C2171.9 1536.8 2173.6 1536.8 2175.3 1536.7C2176.9 1536.7 2178.6 1536.7 2180.3 1536.8C2182.0 1536.8 2183.6 1536.8 2185.3 1536.9C2187.0 1536.9 2188.6 1537.0 2190.3 1537.1C2191.9 1537.2 2193.6 1537.3 2195.2 1537.5C2196.9 1537.6 2198.5 1537.8 2200.2 1538.1C2201.8 1538.3 2203.5 1538.5 2205.1 1538.8C2206.7 1539.1 2208.3 1539.5 2210.0 1539.8C2211.6 1540.2 2213.2 1540.5 2214.8 1540.9C2216.4 1541.3 2218.1 1541.7 2219.7 1542.0C2221.3 1542.4 2222.9 1542.8 2224.5 1543.2C2226.2 1543.5 2227.8 1543.9 2229.4 1544.2C2231.1 1544.5 2233.1 1544.9 2234.3 1545.1C2235.6 1545.3 2236.6 1545.4 2237.0 1545.5"/>
<path class="c" stroke="#000" stroke-width="7.4" d="M282.2 967.0C282.5 966.2 283.6 964.0 284.3 962.5C285.0 961.0 285.7 959.5 286.3 958.0C287.0 956.5 287.7 955.0 288.4 953.5C289.0 952.0 289.7 950.5 290.4 948.9C291.0 947.4 291.7 945.9 292.4 944.3C293.0 942.8 293.7 941.3 294.3 939.7C295.0 938.2 295.7 936.7 296.3 935.1C297.0 933.6 297.6 932.1 298.3 930.5C298.9 929.0 299.6 927.4 300.2 925.9C300.9 924.3 301.5 922.8 302.2 921.2C302.9 919.7 303.5 918.2 304.2 916.6C304.8 915.1 305.5 913.5 306.2 912.0C306.8 910.4 307.5 908.9 308.2 907.4C308.9 905.8 309.5 904.3 310.2 902.8C310.9 901.2 311.6 899.7 312.3 898.2C313.0 896.7 313.7 895.1 314.4 893.6C315.1 892.1 315.8 890.6 316.5 889.1C317.2 887.6 318.0 886.1 318.7 884.6C319.4 883.1 320.2 881.6 320.9 880.1C321.7 878.6 322.5 877.1 323.2 875.6C324.0 874.2 324.8 872.7 325.6 871.2C326.4 869.8 327.2 868.3 328.0 866.9C328.8 865.5 329.6 864.0 330.5 862.6C331.3 861.2 332.2 859.8 333.0 858.3C333.9 856.9 334.8 855.5 335.7 854.2C336.6 852.8 337.5 851.4 338.4 850.0C339.3 848.7 340.2 847.3 341.2 846.0C342.1 844.6 343.1 843.3 344.1 842.0C345.1 840.7 346.1 839.3 347.1 838.1C348.1 836.8 349.1 835.5 350.2 834.2C351.2 832.9 352.3 831.7 353.4 830.4C354.5 829.2 355.6 828.0 356.7 826.8C357.8 825.6 359.0 824.4 360.2 823.2C361.3 822.0 362.5 820.8 363.7 819.7C364.9 818.5 366.2 817.4 367.4 816.3C368.7 815.2 369.9 814.1 371.2 813.0C372.5 811.9 373.8 810.8 375.1 809.7C376.4 808.6 377.7 807.6 379.0 806.5C380.3 805.5 381.6 804.4 382.9 803.4C384.3 802.3 385.6 801.3 386.9 800.2C388.2 799.2 389.6 798.1 390.9 797.1C392.2 796.0 393.5 795.0 394.8 793.9C396.1 792.9 397.5 791.9 398.7 790.8C400.0 789.7 401.3 788.7 402.6 787.6C403.9 786.6 405.1 785.5 406.4 784.5C407.7 783.4 408.9 782.4 410.2 781.4C411.5 780.4 412.8 779.5 414.2 778.6C415.5 777.7 416.9 776.8 418.3 776.1C419.8 775.3 421.2 774.6 422.8 774.0C424.3 773.4 425.9 772.9 427.5 772.3C429.0 771.8 430.7 771.3 432.2 770.7C433.8 770.1 435.4 769.5 436.9 768.9C438.5 768.3 440.0 767.6 441.6 766.9C443.1 766.2 444.6 765.5 446.1 764.8C447.6 764.0 449.1 763.2 450.5 762.4C452.0 761.6 453.4 760.7 454.8 759.9C456.3 759.0 457.7 758.1 459.1 757.2C460.4 756.2 461.8 755.3 463.1 754.3C464.5 753.3 465.8 752.3 467.1 751.3C468.4 750.2 469.7 749.2 470.9 748.1C472.2 747.0 473.4 745.9 474.6 744.8C475.8 743.6 477.0 742.5 478.1 741.3C479.2 740.1 480.4 738.9 481.5 737.7C482.6 736.4 483.6 735.2 484.7 733.9C485.7 732.6 486.7 731.4 487.7 730.0C488.7 728.7 489.6 727.4 490.5 726.0C491.5 724.7 492.4 723.3 493.2 721.9C494.1 720.5 494.9 719.1 495.8 717.7C496.6 716.3 497.4 714.8 498.2 713.4C498.9 711.9 499.7 710.5 500.4 709.0C501.1 707.5 501.9 706.0 502.5 704.5C503.2 703.0 503.9 701.5 504.6 699.9C505.2 698.4 505.9 696.9 506.5 695.3C507.1 693.8 507.7 692.2 508.3 690.6C508.9 689.1 509.5 687.5 510.0 685.9C510.6 684.3 511.2 682.7 511.7 681.1C512.3 679.5 512.8 677.9 513.3 676.3C513.8 674.7 514.3 673.1 514.8 671.5C515.3 669.9 515.8 668.2 516.3 666.6C516.8 665.0 517.3 663.4 517.8 661.7C518.3 660.1 518.7 658.5 519.2 656.9C519.7 655.2 520.2 653.6 520.6 652.0C521.1 650.4 521.5 648.8 522.0 647.1C522.5 645.5 522.9 643.9 523.4 642.3C523.8 640.7 524.3 639.1 524.7 637.4C525.2 635.8 525.7 634.2 526.1 632.6C526.5 631.0 527.0 629.4 527.4 627.8C527.9 626.1 528.3 624.5 528.8 622.9C529.2 621.3 529.6 619.7 530.1 618.1C530.5 616.5 531.0 614.9 531.4 613.3C531.8 611.7 532.3 610.1 532.7 608.4C533.1 606.8 533.6 605.2 534.0 603.6C534.4 602.0 534.8 600.4 535.3 598.8C535.7 597.2 536.1 595.6 536.6 594.0C537.0 592.4 537.4 590.8 537.8 589.2C538.3 587.6 538.7 586.0 539.1 584.4C539.5 582.8 540.0 581.2 540.4 579.6C540.8 578.0 541.2 576.4 541.6 574.8C542.1 573.2 542.5 571.6 542.9 570.0C543.3 568.4 543.8 566.8 544.2 565.2C544.6 563.6 545.0 562.0 545.4 560.4C545.9 558.8 546.3 557.2 546.7 555.6C547.1 554.0 547.6 552.4 548.0 550.8C548.4 549.2 548.8 547.6 549.3 546.0C549.7 544.4 550.1 542.8 550.5 541.2C551.0 539.6 551.4 538.0 551.8 536.4C552.3 534.8 552.7 533.2 553.1 531.6C553.6 530.0 554.0 528.4 554.4 526.8C554.9 525.2 555.3 523.6 555.7 522.0C556.2 520.4 556.6 518.8 557.0 517.2C557.5 515.6 557.9 514.0 558.4 512.4C558.8 510.8 559.3 509.2 559.7 507.6C560.2 506.0 560.6 504.4 561.1 502.8C561.5 501.2 562.0 499.6 562.4 498.0C562.9 496.4 563.3 494.8 563.8 493.2C564.3 491.6 564.7 490.0 565.2 488.3C565.7 486.7 566.1 485.1 566.6 483.5C567.1 481.9 567.6 480.3 568.0 478.7C568.5 477.1 569.0 475.6 569.5 474.0C570.0 472.4 570.5 470.8 571.0 469.2C571.5 467.6 572.0 466.0 572.5 464.4C573.0 462.8 573.5 461.2 574.0 459.6C574.5 458.0 575.1 455.9 575.5 454.8C575.9 453.7 575.9 453.5 576.1 452.9C576.3 452.3 576.5 451.6 576.8 451.0C577.0 450.3 577.2 449.7 577.4 449.1C577.6 448.4 577.8 447.8 578.0 447.2C578.2 446.5 578.4 445.9 578.7 445.3C578.9 444.6 579.1 444.0 579.3 443.4C579.5 442.7 579.8 442.1 580.0 441.5C580.2 440.8 580.4 440.2 580.7 439.6C580.9 438.9 581.2 438.3 581.4 437.7C581.7 437.1 581.9 436.4 582.2 435.8C582.4 435.2 582.7 434.6 583.0 434.0C583.3 433.4 583.6 432.8 583.9 432.2C584.2 431.6 584.5 431.0 584.9 430.4C585.2 429.8 585.6 429.2 585.9 428.6C586.3 428.0 586.7 427.4 587.1 426.9C587.5 426.3 587.9 425.7 588.3 425.2C588.8 424.6 589.2 424.1 589.7 423.5C590.2 423.0 590.6 422.5 591.1 422.0C591.6 421.5 592.1 421.1 592.6 420.7C593.2 420.2 593.7 419.8 594.2 419.5C594.8 419.2 595.3 418.9 595.9 418.6C596.4 418.4 597.0 418.2 597.5 418.0C598.1 417.9 598.7 417.8 599.2 417.8C599.8 417.7 600.3 417.8 600.9 417.9C601.4 417.9 602.0 418.1 602.5 418.3C603.0 418.5 603.6 418.7 604.1 419.0C604.6 419.3 605.1 419.6 605.6 420.0C606.0 420.4 606.5 420.8 606.9 421.2C607.4 421.7 607.8 422.2 608.2 422.7C608.6 423.2 609.0 423.8 609.3 424.4C609.7 424.9 610.0 425.5 610.4 426.1C610.7 426.7 611.0 427.4 611.3 428.0C611.6 428.7 611.9 429.3 612.2 430.0C612.5 430.6 612.8 431.3 613.1 431.9C613.4 432.6 613.6 433.2 613.9 433.9C614.2 434.5 614.5 435.2 614.7 435.8C615.0 436.5 615.3 437.1 615.5 437.7C615.8 438.4 616.1 439.0 616.3 439.6C616.6 440.3 616.8 440.9 617.1 441.5C617.3 442.1 617.6 442.8 617.8 443.4C618.1 444.0 618.3 444.6 618.6 445.2C618.8 445.9 619.1 446.5 619.3 447.1C619.5 447.7 619.8 448.3 620.0 448.9C620.3 449.6 620.5 450.2 620.7 450.8C621.0 451.4 621.2 452.0 621.4 452.6C621.6 453.2 621.9 453.9 622.1 454.5C622.3 455.1 622.5 455.7 622.8 456.3C623.0 456.9 623.0 457.1 623.4 458.2C623.8 459.3 624.5 461.3 625.0 462.8C625.5 464.4 626.0 466.0 626.6 467.5C627.1 469.1 627.6 470.7 628.0 472.3C628.5 473.8 629.0 475.4 629.5 477.0C629.9 478.6 630.4 480.2 630.9 481.8C631.3 483.4 631.8 485.0 632.2 486.6C632.6 488.2 633.1 489.8 633.5 491.4C633.9 493.0 634.3 494.6 634.8 496.2C635.2 497.8 635.6 499.4 636.0 501.0C636.4 502.7 636.8 504.3 637.2 505.9C637.5 507.5 637.9 509.2 638.3 510.8C638.7 512.4 639.1 514.0 639.4 515.7C639.8 517.3 640.2 518.9 640.5 520.6C640.9 522.2 641.2 523.8 641.6 525.5C641.9 527.1 642.3 528.8 642.6 530.4C643.0 532.0 643.3 533.7 643.6 535.3C644.0 537.0 644.3 538.6 644.6 540.2C645.0 541.9 645.3 543.5 645.6 545.2C646.0 546.8 646.3 548.4 646.6 550.1C646.9 551.7 647.2 553.4 647.6 555.0C647.9 556.6 648.2 558.3 648.5 559.9C648.8 561.6 649.1 563.2 649.4 564.9C649.7 566.5 650.1 568.1 650.4 569.8C650.7 571.4 651.0 573.1 651.3 574.7C651.6 576.3 651.9 578.0 652.2 579.6C652.5 581.3 652.7 582.9 653.0 584.6C653.3 586.2 653.6 587.8 653.9 589.5C654.2 591.1 654.5 592.8 654.8 594.4C655.1 596.1 655.3 597.7 655.6 599.3C655.9 601.0 656.2 602.6 656.5 604.3C656.8 605.9 657.0 607.6 657.3 609.2C657.6 610.9 657.9 612.5 658.1 614.1C658.4 615.8 658.7 617.4 659.0 619.1C659.2 620.7 659.5 622.4 659.8 624.0C660.0 625.6 660.3 627.3 660.6 628.9C660.8 630.6 661.1 632.2 661.4 633.9C661.6 635.5 661.9 637.2 662.2 638.8C662.4 640.4 662.7 642.1 662.9 643.7C663.2 645.4 663.5 647.0 663.7 648.7C664.0 650.3 664.2 652.0 664.5 653.6C664.8 655.2 665.0 656.9 665.3 658.5C665.5 660.2 665.8 661.8 666.0 663.5C666.3 665.1 666.5 666.8 666.8 668.4C667.1 670.0 667.3 671.7 667.6 673.3C667.8 675.0 668.1 676.6 668.3 678.3C668.6 679.9 668.8 681.6 669.1 683.2C669.3 684.8 669.6 686.5 669.8 688.1C670.1 689.8 670.3 691.4 670.6 693.1C670.8 694.7 671.1 696.4 671.3 698.0C671.6 699.7 671.8 701.3 672.1 702.9C672.3 704.6 672.6 706.2 672.8 707.9C673.1 709.5 673.3 711.2 673.6 712.8C673.8 714.5 674.1 716.1 674.3 717.7C674.6 719.4 674.8 721.0 675.1 722.7C675.4 724.3 675.6 726.0 675.9 727.6C676.1 729.3 676.4 730.9 676.6 732.5C676.9 734.2 677.1 735.8 677.4 737.5C677.6 739.1 677.9 740.8 678.2 742.4C678.4 744.0 678.7 745.7 678.9 747.3C679.2 749.0 679.4 750.6 679.7 752.3C680.0 753.9 680.2 755.6 680.5 757.2C680.7 758.8 681.0 760.5 681.3 762.1C681.5 763.8 681.8 765.4 682.1 767.1C682.3 768.7 682.6 770.3 682.9 772.0C683.1 773.6 683.4 775.3 683.7 776.9C683.9 778.6 684.2 780.2 684.5 781.8C684.7 783.5 685.0 785.1 685.3 786.8C685.6 788.4 685.8 790.1 686.1 791.7C686.4 793.3 686.7 795.0 687.0 796.6C687.2 798.3 687.5 799.9 687.8 801.5C688.1 803.2 688.4 804.8 688.7 806.5C689.0 808.1 689.2 809.8 689.5 811.4C689.8 813.0 690.1 814.7 690.4 816.3C690.7 818.0 691.0 819.6 691.3 821.2C691.6 822.9 691.9 824.5 692.2 826.2C692.5 827.8 692.8 829.4 693.1 831.1C693.4 832.7 693.7 834.4 694.0 836.0C694.3 837.6 694.6 839.3 695.0 840.9C695.3 842.5 695.6 844.2 695.9 845.8C696.2 847.5 696.5 849.1 696.8 850.7C697.2 852.4 697.5 854.0 697.8 855.6C698.1 857.3 698.5 858.9 698.8 860.6C699.1 862.2 699.5 863.8 699.8 865.5C700.1 867.1 700.4 868.7 700.8 870.4C701.1 872.0 701.5 873.6 701.8 875.3C702.1 876.9 702.5 878.5 702.8 880.2C703.2 881.8 703.5 883.4 703.9 885.1C704.2 886.7 704.6 888.3 704.9 890.0C705.3 891.6 705.6 893.2 706.0 894.9C706.3 896.5 706.7 898.1 707.0 899.7C707.4 901.4 707.8 903.0 708.1 904.6C708.5 906.3 708.9 907.9 709.2 909.5C709.6 911.1 710.0 912.8 710.4 914.4C710.7 916.0 711.1 917.6 711.5 919.3C711.9 920.9 712.2 922.5 712.6 924.1C713.0 925.7 713.4 927.4 713.8 929.0C714.2 930.6 714.6 932.2 714.9 933.9C715.3 935.5 715.7 937.1 716.1 938.7C716.5 940.3 716.9 941.9 717.3 943.6C717.7 945.2 718.1 946.8 718.5 948.4C718.9 950.0 719.3 951.6 719.8 953.3C720.2 954.9 720.6 956.5 721.0 958.1C721.4 959.7 721.8 961.3 722.2 962.9C722.7 964.5 723.1 966.2 723.5 967.8C723.9 969.4 724.4 971.0 724.8 972.6C725.2 974.2 725.7 975.8 726.1 977.4C726.6 979.0 727.0 980.6 727.5 982.2C727.9 983.8 728.4 985.4 728.8 987.0C729.3 988.6 729.8 990.2 730.3 991.8C730.7 993.4 731.2 994.9 731.7 996.5C732.2 998.1 732.7 999.7 733.2 1001.3C733.7 1002.8 734.2 1004.4 734.8 1006.0C735.3 1007.6 735.8 1009.1 736.4 1010.7C736.9 1012.2 737.5 1013.8 738.1 1015.4C738.6 1016.9 739.2 1018.5 739.8 1020.0C740.4 1021.6 741.0 1023.1 741.6 1024.6C742.2 1026.2 742.8 1027.7 743.5 1029.2C744.1 1030.8 744.8 1032.3 745.4 1033.8C746.1 1035.3 746.8 1036.8 747.5 1038.3C748.2 1039.9 748.9 1041.4 749.6 1042.9C750.3 1044.3 751.1 1045.8 751.8 1047.3C752.6 1048.8 753.4 1050.3 754.1 1051.8C754.9 1053.2 755.7 1054.7 756.6 1056.1C757.4 1057.6 758.2 1059.1 759.1 1060.5C759.9 1061.9 760.8 1063.4 761.7 1064.8C762.6 1066.2 763.5 1067.7 764.5 1069.1C765.4 1070.5 766.4 1071.9 767.3 1073.3C768.3 1074.7 769.3 1076.1 770.3 1077.4C771.3 1078.8 772.4 1080.1 773.4 1081.4C774.5 1082.8 775.6 1084.1 776.7 1085.3C777.8 1086.6 778.9 1087.8 780.1 1089.0C781.3 1090.3 782.4 1091.4 783.7 1092.6C784.9 1093.7 786.1 1094.8 787.4 1095.9C788.6 1097.0 789.9 1098.0 791.2 1099.0C792.6 1099.9 793.9 1100.9 795.3 1101.8C796.7 1102.7 798.1 1103.5 799.5 1104.3C800.9 1105.1 802.4 1105.8 803.9 1106.5C805.3 1107.2 806.8 1107.9 808.4 1108.5C809.9 1109.1 811.4 1109.7 813.0 1110.3C814.5 1110.9 816.1 1111.4 817.7 1112.0C819.3 1112.5 820.9 1113.0 822.4 1113.5C824.0 1114.0 825.6 1114.5 827.2 1115.0C828.9 1115.5 830.5 1115.9 832.1 1116.4C833.7 1116.9 835.3 1117.4 836.9 1117.9C838.5 1118.3 840.1 1118.8 841.6 1119.4C843.2 1119.9 844.8 1120.4 846.4 1120.9C847.9 1121.5 849.5 1122.0 851.0 1122.6C852.6 1123.2 854.1 1123.8 855.6 1124.4C857.2 1125.0 858.7 1125.7 860.2 1126.4C861.7 1127.0 863.1 1127.7 864.6 1128.5C866.0 1129.2 867.5 1130.0 868.9 1130.8C870.3 1131.6 871.7 1132.5 873.1 1133.4C874.5 1134.3 875.8 1135.2 877.2 1136.2C878.5 1137.1 879.8 1138.1 881.1 1139.2C882.4 1140.2 883.7 1141.3 884.9 1142.4C886.2 1143.5 887.4 1144.6 888.6 1145.8C889.8 1146.9 891.0 1148.1 892.2 1149.3C893.4 1150.5 894.5 1151.7 895.7 1152.9C896.8 1154.2 898.0 1155.4 899.1 1156.7C900.2 1158.0 901.3 1159.2 902.4 1160.5C903.5 1161.8 904.6 1163.1 905.6 1164.4C906.7 1165.7 907.7 1167.0 908.8 1168.4C909.8 1169.7 910.8 1171.0 911.8 1172.4C912.9 1173.7 913.9 1175.0 914.9 1176.4C915.9 1177.7 916.8 1179.1 917.8 1180.5C918.8 1181.8 919.8 1183.2 920.8 1184.5C921.7 1185.9 922.7 1187.3 923.6 1188.7C924.6 1190.0 925.5 1191.4 926.5 1192.8C927.4 1194.2 928.4 1195.6 929.3 1196.9C930.3 1198.3 931.2 1199.7 932.2 1201.1C933.1 1202.5 934.0 1203.8 935.0 1205.2C935.9 1206.6 936.9 1208.0 937.8 1209.4C938.8 1210.7 939.7 1212.1 940.6 1213.5C941.6 1214.8 942.5 1216.2 943.5 1217.6C944.5 1218.9 945.4 1220.3 946.4 1221.6C947.4 1223.0 948.3 1224.3 949.3 1225.7C950.3 1227.0 951.3 1228.4 952.3 1229.7C953.3 1231.0 954.3 1232.3 955.3 1233.6C956.3 1234.9 957.3 1236.3 958.4 1237.5C959.4 1238.8 960.4 1240.1 961.5 1241.4C962.6 1242.7 963.6 1243.9 964.7 1245.2C965.8 1246.4 966.9 1247.7 968.0 1248.9C969.1 1250.1 970.2 1251.3 971.4 1252.5C972.5 1253.7 973.7 1254.9 974.9 1256.1C976.0 1257.3 977.2 1258.4 978.4 1259.6C979.6 1260.7 980.8 1261.9 982.1 1263.0C983.3 1264.1 984.5 1265.2 985.8 1266.3C987.0 1267.4 988.3 1268.5 989.6 1269.5C990.9 1270.6 992.2 1271.6 993.5 1272.7C994.8 1273.7 996.1 1274.7 997.4 1275.7C998.8 1276.7 1000.1 1277.7 1001.5 1278.7C1002.8 1279.6 1004.2 1280.6 1005.6 1281.5C1006.9 1282.5 1008.3 1283.4 1009.7 1284.3C1011.1 1285.2 1012.5 1286.1 1013.9 1287.0C1015.4 1287.9 1016.8 1288.7 1018.2 1289.5C1019.7 1290.4 1021.1 1291.2 1022.6 1292.0C1024.0 1292.8 1025.5 1293.6 1027.0 1294.4C1028.5 1295.1 1030.0 1295.9 1031.5 1296.6C1033.0 1297.4 1034.5 1298.1 1036.0 1298.8C1037.5 1299.5 1039.0 1300.1 1040.5 1300.8C1042.1 1301.5 1043.6 1302.1 1045.2 1302.7C1046.7 1303.3 1048.3 1303.9 1049.8 1304.5C1051.4 1305.1 1053.0 1305.7 1054.5 1306.2C1056.1 1306.8 1057.7 1307.3 1059.3 1307.8C1060.9 1308.3 1062.5 1308.8 1064.1 1309.2C1065.7 1309.7 1067.3 1310.1 1068.9 1310.5C1070.5 1311.0 1072.1 1311.4 1073.8 1311.7C1075.4 1312.1 1077.0 1312.5 1078.7 1312.8C1080.3 1313.2 1081.9 1313.5 1083.6 1313.8C1085.2 1314.1 1086.9 1314.4 1088.5 1314.6C1090.1 1314.9 1091.8 1315.1 1093.5 1315.4C1095.1 1315.6 1097.3 1315.8 1098.4 1316.0C1099.6 1316.1 1099.8 1316.1 1100.4 1316.2C1101.1 1316.3 1101.7 1316.3 1102.4 1316.4C1103.1 1316.4 1103.7 1316.5 1104.4 1316.6C1105.1 1316.6 1105.7 1316.7 1106.4 1316.7C1107.1 1316.8 1107.7 1316.8 1108.4 1316.9C1109.1 1316.9 1109.7 1316.9 1110.4 1317.0C1111.1 1317.0 1111.7 1317.1 1112.4 1317.1C1113.1 1317.1 1113.7 1317.2 1114.4 1317.2C1115.1 1317.2 1115.7 1317.2 1116.4 1317.3C1117.1 1317.3 1117.7 1317.3 1118.4 1317.3C1119.1 1317.3 1119.7 1317.3 1120.4 1317.3C1121.1 1317.3 1121.7 1317.4 1122.4 1317.4C1123.1 1317.4 1123.7 1317.4 1124.4 1317.4C1125.1 1317.4 1125.7 1317.4 1126.4 1317.3C1127.1 1317.3 1127.7 1317.3 1128.4 1317.3C1129.1 1317.3 1129.7 1317.3 1130.4 1317.3C1131.1 1317.2 1131.7 1317.2 1132.4 1317.2C1133.0 1317.2 1133.7 1317.1 1134.4 1317.1C1135.0 1317.1 1135.7 1317.0 1136.4 1317.0C1137.0 1317.0 1137.7 1316.9 1138.3 1316.9C1139.0 1316.8 1139.7 1316.8 1140.3 1316.7C1141.0 1316.7 1141.7 1316.6 1142.3 1316.6C1143.0 1316.5 1143.6 1316.5 1144.3 1316.4C1145.0 1316.4 1145.1 1316.4 1146.3 1316.2C1147.4 1316.1 1149.6 1315.9 1151.2 1315.7C1152.9 1315.5 1154.5 1315.3 1156.1 1315.1C1157.8 1314.9 1159.4 1314.6 1161.0 1314.4C1162.7 1314.1 1164.3 1313.9 1165.9 1313.6C1167.6 1313.3 1169.2 1313.0 1170.8 1312.7C1172.5 1312.4 1174.1 1312.1 1175.7 1311.8C1177.3 1311.4 1179.0 1311.1 1180.6 1310.8C1182.2 1310.4 1183.9 1310.1 1185.5 1309.7C1187.1 1309.3 1188.7 1309.0 1190.4 1308.6C1192.0 1308.2 1193.6 1307.8 1195.2 1307.4C1196.9 1307.0 1198.5 1306.6 1200.1 1306.2C1201.8 1305.8 1203.4 1305.4 1205.0 1305.0C1206.7 1304.6 1208.3 1304.1 1209.9 1303.7C1211.6 1303.3 1213.2 1302.8 1214.8 1302.4C1216.5 1302.0 1218.1 1301.5 1219.7 1301.1C1221.4 1300.6 1223.0 1300.1 1224.6 1299.7C1226.2 1299.2 1227.9 1298.7 1229.5 1298.2C1231.1 1297.7 1232.7 1297.2 1234.3 1296.7C1235.9 1296.1 1237.5 1295.6 1239.1 1295.1C1240.7 1294.5 1242.3 1294.0 1243.8 1293.4C1245.4 1292.8 1247.0 1292.2 1248.5 1291.6C1250.1 1291.0 1251.6 1290.4 1253.2 1289.8C1254.7 1289.1 1256.2 1288.5 1257.7 1287.8C1259.3 1287.1 1260.8 1286.4 1262.2 1285.7C1263.7 1285.0 1265.2 1284.3 1266.7 1283.6C1268.1 1282.8 1269.6 1282.0 1271.0 1281.3C1272.4 1280.5 1273.8 1279.7 1275.2 1278.8C1276.6 1278.0 1278.0 1277.1 1279.3 1276.3C1280.7 1275.4 1282.0 1274.5 1283.3 1273.6C1284.7 1272.6 1286.0 1271.7 1287.2 1270.7C1288.5 1269.8 1289.8 1268.8 1291.0 1267.7C1292.3 1266.7 1293.5 1265.7 1294.8 1264.7C1296.0 1263.6 1297.3 1262.6 1298.5 1261.5C1299.7 1260.4 1300.9 1259.3 1302.1 1258.2C1303.4 1257.1 1304.6 1256.0 1305.8 1254.9C1307.0 1253.7 1308.3 1252.6 1309.5 1251.5C1310.7 1250.3 1312.0 1249.2 1313.2 1248.0C1314.5 1246.9 1315.8 1245.7 1317.0 1244.5C1318.3 1243.4 1319.6 1242.2 1320.9 1241.0C1322.2 1239.9 1323.6 1238.7 1324.9 1237.6C1326.3 1236.4 1327.6 1235.2 1329.0 1234.1C1330.4 1233.0 1331.8 1231.8 1333.3 1230.7C1334.7 1229.7 1336.2 1228.6 1337.6 1227.7C1339.1 1226.7 1341.0 1225.6 1342.1 1225.1C1343.1 1224.5 1343.3 1224.4 1343.9 1224.2C1344.5 1223.9 1345.1 1223.6 1345.7 1223.4C1346.3 1223.1 1346.9 1222.9 1347.5 1222.7C1348.1 1222.5 1348.7 1222.3 1349.3 1222.1C1349.9 1221.9 1350.5 1221.8 1351.1 1221.7C1351.7 1221.5 1352.3 1221.4 1352.9 1221.4C1353.5 1221.3 1354.1 1221.3 1354.7 1221.2C1355.4 1221.2 1356.0 1221.2 1356.6 1221.3C1357.2 1221.3 1357.8 1221.3 1358.4 1221.4C1359.0 1221.5 1359.6 1221.6 1360.2 1221.8C1360.8 1221.9 1361.4 1222.0 1362.0 1222.2C1362.6 1222.4 1363.2 1222.6 1363.8 1222.8C1364.4 1223.0 1365.0 1223.3 1365.6 1223.6C1366.2 1223.8 1366.8 1224.1 1367.4 1224.4C1368.0 1224.7 1368.6 1225.0 1369.2 1225.3C1369.7 1225.7 1369.9 1225.7 1370.9 1226.4C1371.9 1227.1 1373.7 1228.3 1375.1 1229.4C1376.4 1230.5 1377.8 1231.6 1379.1 1232.8C1380.3 1234.0 1381.6 1235.2 1382.8 1236.5C1384.0 1237.8 1385.1 1239.1 1386.2 1240.4C1387.3 1241.7 1388.3 1243.0 1389.3 1244.4C1390.3 1245.7 1391.2 1247.1 1392.2 1248.5C1393.1 1249.8 1394.0 1251.2 1394.8 1252.7C1395.7 1254.1 1396.5 1255.5 1397.3 1256.9C1398.1 1258.4 1398.9 1259.8 1399.7 1261.3C1400.4 1262.8 1401.2 1264.2 1401.9 1265.7C1402.7 1267.2 1403.4 1268.7 1404.2 1270.2C1404.9 1271.6 1405.6 1273.1 1406.3 1274.6C1407.1 1276.1 1407.8 1277.6 1408.5 1279.1C1409.2 1280.6 1409.9 1282.1 1410.6 1283.7C1411.3 1285.2 1412.0 1286.7 1412.7 1288.2C1413.4 1289.7 1414.1 1291.2 1414.8 1292.8C1415.5 1294.3 1416.2 1295.8 1416.9 1297.3C1417.6 1298.9 1418.3 1300.4 1419.0 1301.9C1419.7 1303.4 1420.4 1305.0 1421.0 1306.5C1421.7 1308.0 1422.4 1309.6 1423.1 1311.1C1423.8 1312.6 1424.5 1314.1 1425.2 1315.7C1425.9 1317.2 1426.6 1318.7 1427.3 1320.3C1428.0 1321.8 1428.7 1323.3 1429.4 1324.8C1430.1 1326.4 1430.8 1327.9 1431.5 1329.4C1432.2 1330.9 1433.0 1332.4 1433.7 1333.9C1434.4 1335.5 1435.1 1337.0 1435.8 1338.5C1436.6 1340.0 1437.3 1341.5 1438.0 1343.0C1438.8 1344.5 1439.5 1346.0 1440.3 1347.5C1441.0 1349.0 1441.8 1350.5 1442.6 1352.0C1443.3 1353.4 1444.1 1354.9 1444.9 1356.4C1445.7 1357.9 1446.5 1359.3 1447.3 1360.8C1448.0 1362.2 1448.9 1363.7 1449.7 1365.1C1450.5 1366.6 1451.3 1368.0 1452.1 1369.5C1453.0 1370.9 1453.8 1372.3 1454.7 1373.7C1455.5 1375.1 1456.4 1376.6 1457.3 1377.9C1458.2 1379.3 1459.1 1380.7 1460.0 1382.1C1460.9 1383.5 1461.8 1384.8 1462.7 1386.2C1463.7 1387.5 1464.6 1388.9 1465.6 1390.2C1466.6 1391.5 1467.6 1392.8 1468.6 1394.1C1469.6 1395.4 1470.6 1396.6 1471.6 1397.9C1472.7 1399.2 1473.7 1400.4 1474.8 1401.6C1475.9 1402.8 1477.0 1404.0 1478.1 1405.2C1479.2 1406.4 1480.4 1407.6 1481.6 1408.7C1482.7 1409.9 1483.9 1411.0 1485.1 1412.1C1486.3 1413.2 1487.6 1414.3 1488.8 1415.3C1490.1 1416.4 1491.4 1417.4 1492.7 1418.4C1494.0 1419.4 1495.3 1420.4 1496.7 1421.4C1498.1 1422.3 1499.5 1423.3 1500.9 1424.2C1502.3 1425.1 1503.7 1426.0 1505.2 1426.8C1506.7 1427.6 1508.2 1428.5 1509.7 1429.3C1511.2 1430.0 1512.7 1430.8 1514.3 1431.5C1515.8 1432.2 1517.4 1432.9 1519.0 1433.6C1520.6 1434.2 1522.2 1434.8 1523.8 1435.4C1525.4 1436.0 1527.0 1436.5 1528.7 1437.0C1530.3 1437.5 1532.5 1438.1 1533.6 1438.4C1534.8 1438.7 1534.9 1438.7 1535.6 1438.8C1536.3 1439.0 1536.9 1439.1 1537.6 1439.3C1538.2 1439.4 1538.9 1439.5 1539.6 1439.7C1540.2 1439.8 1540.9 1439.9 1541.6 1440.0C1542.2 1440.1 1542.9 1440.2 1543.6 1440.3C1544.2 1440.4 1544.9 1440.5 1545.6 1440.5C1546.2 1440.6 1546.9 1440.7 1547.6 1440.7C1548.2 1440.8 1548.9 1440.9 1549.6 1440.9C1550.2 1441.0 1550.9 1441.0 1551.6 1441.0C1552.2 1441.0 1552.9 1441.1 1553.6 1441.1C1554.2 1441.1 1554.9 1441.1 1555.6 1441.1C1556.2 1441.1 1556.9 1441.1 1557.6 1441.0C1558.2 1441.0 1558.9 1441.0 1559.5 1441.0C1560.2 1440.9 1560.9 1440.9 1561.5 1440.8C1562.2 1440.8 1562.8 1440.7 1563.5 1440.6C1564.1 1440.6 1564.8 1440.5 1565.4 1440.4C1566.1 1440.3 1566.7 1440.2 1567.4 1440.1C1568.1 1440.0 1568.7 1439.9 1569.4 1439.8C1570.0 1439.7 1570.6 1439.6 1571.3 1439.5C1571.9 1439.3 1572.6 1439.2 1573.2 1439.1C1573.9 1438.9 1574.5 1438.8 1575.2 1438.6C1575.8 1438.5 1576.4 1438.3 1577.1 1438.2C1577.7 1438.0 1578.4 1437.8 1579.0 1437.7C1579.6 1437.5 1580.3 1437.3 1580.9 1437.1C1581.5 1436.9 1581.7 1436.9 1582.8 1436.6C1583.9 1436.2 1586.0 1435.6 1587.5 1435.0C1589.1 1434.5 1590.6 1433.9 1592.2 1433.3C1593.7 1432.8 1595.3 1432.2 1596.8 1431.5C1598.3 1430.9 1599.9 1430.3 1601.4 1429.6C1602.9 1429.0 1604.4 1428.3 1605.9 1427.6C1607.4 1426.9 1608.9 1426.2 1610.4 1425.5C1611.8 1424.8 1613.3 1424.1 1614.8 1423.3C1616.3 1422.6 1617.8 1421.8 1619.3 1421.1C1620.7 1420.3 1622.2 1419.5 1623.7 1418.8C1625.2 1418.0 1626.6 1417.2 1628.1 1416.4C1629.6 1415.6 1631.1 1414.8 1632.6 1414.0C1634.1 1413.1 1635.6 1412.3 1637.1 1411.5C1638.6 1410.7 1640.1 1409.8 1641.6 1409.0C1643.1 1408.2 1644.6 1407.3 1646.2 1406.5C1647.7 1405.7 1649.2 1404.9 1650.8 1404.2C1652.3 1403.4 1653.8 1402.7 1655.4 1401.9C1656.9 1401.2 1658.5 1400.6 1660.1 1399.9C1661.6 1399.3 1663.7 1398.5 1664.8 1398.1C1665.9 1397.7 1666.0 1397.7 1666.7 1397.5C1667.3 1397.3 1667.9 1397.1 1668.6 1396.9C1669.2 1396.7 1669.9 1396.6 1670.5 1396.4C1671.1 1396.2 1671.8 1396.1 1672.4 1395.9C1673.1 1395.8 1673.7 1395.6 1674.3 1395.5C1675.0 1395.4 1675.6 1395.3 1676.3 1395.2C1676.9 1395.1 1677.6 1395.0 1678.2 1394.9C1678.9 1394.8 1679.5 1394.8 1680.2 1394.7C1680.8 1394.6 1681.5 1394.6 1682.1 1394.5C1682.8 1394.5 1683.4 1394.5 1684.1 1394.5C1684.7 1394.4 1685.4 1394.4 1686.0 1394.4C1686.7 1394.4 1687.3 1394.4 1688.0 1394.4C1688.6 1394.5 1689.3 1394.5 1690.0 1394.5C1690.6 1394.6 1691.3 1394.6 1691.9 1394.7C1692.6 1394.7 1693.2 1394.8 1693.9 1394.8C1694.5 1394.9 1695.2 1395.0 1695.9 1395.1C1696.5 1395.2 1697.2 1395.3 1697.8 1395.4C1698.5 1395.5 1699.1 1395.6 1699.8 1395.7C1700.4 1395.8 1701.1 1395.9 1701.7 1396.1C1702.4 1396.2 1703.0 1396.3 1703.7 1396.5C1704.3 1396.6 1705.0 1396.8 1705.6 1397.0C1706.3 1397.1 1706.9 1397.3 1707.6 1397.5C1708.2 1397.6 1708.9 1397.8 1709.5 1398.0C1710.1 1398.2 1710.8 1398.4 1711.4 1398.6C1712.1 1398.8 1712.2 1398.8 1713.3 1399.2C1714.4 1399.6 1716.5 1400.3 1718.1 1400.9C1719.7 1401.5 1721.2 1402.1 1722.8 1402.8C1724.3 1403.5 1725.8 1404.1 1727.3 1404.8C1728.9 1405.6 1730.4 1406.3 1731.8 1407.0C1733.3 1407.8 1734.8 1408.6 1736.2 1409.4C1737.7 1410.2 1739.1 1411.0 1740.6 1411.8C1742.0 1412.6 1743.4 1413.5 1744.8 1414.3C1746.3 1415.2 1747.7 1416.1 1749.1 1416.9C1750.5 1417.8 1751.9 1418.7 1753.3 1419.6C1754.7 1420.5 1756.0 1421.4 1757.4 1422.3C1758.8 1423.2 1760.2 1424.1 1761.6 1425.1C1763.0 1426.0 1764.4 1426.9 1765.8 1427.8C1767.2 1428.7 1768.6 1429.6 1770.0 1430.6C1771.4 1431.5 1772.8 1432.4 1774.2 1433.3C1775.6 1434.2 1777.0 1435.1 1778.4 1436.0C1779.9 1436.9 1781.3 1437.8 1782.7 1438.7C1784.1 1439.6 1785.6 1440.5 1787.0 1441.4C1788.4 1442.3 1789.9 1443.2 1791.3 1444.0C1792.8 1444.9 1794.2 1445.8 1795.6 1446.6C1797.1 1447.5 1798.5 1448.4 1800.0 1449.2C1801.5 1450.1 1802.9 1450.9 1804.4 1451.7C1805.8 1452.6 1807.3 1453.4 1808.8 1454.2C1810.3 1455.0 1811.7 1455.8 1813.2 1456.6C1814.7 1457.4 1816.2 1458.2 1817.7 1459.0C1819.2 1459.8 1820.7 1460.5 1822.2 1461.3C1823.7 1462.0 1825.2 1462.8 1826.7 1463.5C1828.2 1464.2 1829.7 1464.9 1831.2 1465.6C1832.7 1466.3 1834.2 1467.0 1835.8 1467.7C1837.3 1468.4 1838.8 1469.0 1840.3 1469.7C1841.9 1470.3 1843.4 1470.9 1845.0 1471.5C1846.5 1472.1 1848.0 1472.7 1849.6 1473.3C1851.1 1473.9 1852.7 1474.5 1854.3 1475.0C1855.8 1475.6 1857.4 1476.1 1859.0 1476.6C1860.5 1477.1 1862.1 1477.6 1863.7 1478.1C1865.2 1478.6 1866.8 1479.1 1868.4 1479.6C1870.0 1480.0 1871.6 1480.5 1873.2 1480.9C1874.8 1481.4 1876.3 1481.8 1877.9 1482.2C1879.5 1482.6 1881.1 1483.0 1882.7 1483.4C1884.4 1483.8 1886.0 1484.2 1887.6 1484.6C1889.2 1485.0 1890.8 1485.3 1892.4 1485.7C1894.0 1486.0 1895.6 1486.4 1897.3 1486.7C1898.9 1487.0 1900.5 1487.4 1902.1 1487.7C1903.8 1488.0 1905.4 1488.3 1907.0 1488.6C1908.6 1488.9 1910.3 1489.2 1911.9 1489.5C1913.6 1489.8 1915.2 1490.1 1916.8 1490.3C1918.5 1490.6 1920.1 1490.9 1921.8 1491.1C1923.4 1491.4 1925.0 1491.6 1926.7 1491.9C1928.3 1492.1 1930.0 1492.4 1931.6 1492.6C1933.3 1492.8 1934.9 1493.1 1936.6 1493.3C1938.2 1493.5 1939.9 1493.8 1941.5 1494.0C1943.2 1494.2 1944.9 1494.4 1946.5 1494.6C1948.2 1494.9 1949.8 1495.1 1951.5 1495.3C1953.1 1495.5 1954.8 1495.7 1956.5 1495.9C1958.1 1496.1 1959.8 1496.3 1961.4 1496.5C1963.1 1496.7 1964.8 1496.9 1966.4 1497.1C1968.1 1497.3 1969.8 1497.5 1971.4 1497.7C1973.1 1498.0 1974.7 1498.2 1976.4 1498.4C1978.1 1498.6 1979.7 1498.8 1981.4 1499.0C1983.1 1499.2 1984.7 1499.4 1986.4 1499.6C1988.0 1499.8 1989.7 1500.0 1991.4 1500.2C1993.0 1500.5 1994.7 1500.7 1996.3 1500.9C1998.0 1501.1 1999.6 1501.3 2001.3 1501.6C2003.0 1501.8 2004.6 1502.0 2006.3 1502.3C2007.9 1502.5 2009.6 1502.8 2011.2 1503.0C2012.9 1503.3 2014.5 1503.5 2016.2 1503.8C2017.8 1504.0 2019.5 1504.3 2021.1 1504.6C2022.8 1504.8 2024.4 1505.1 2026.1 1505.4C2027.7 1505.7 2029.4 1506.0 2031.0 1506.3C2032.6 1506.6 2034.3 1506.9 2035.9 1507.2C2037.5 1507.5 2039.2 1507.9 2040.8 1508.2C2042.4 1508.5 2044.1 1508.9 2045.7 1509.2C2047.3 1509.6 2048.9 1509.9 2050.6 1510.3C2052.2 1510.7 2053.8 1511.1 2055.4 1511.4C2057.0 1511.8 2058.7 1512.2 2060.3 1512.5C2061.9 1512.9 2063.5 1513.3 2065.1 1513.6C2066.8 1514.0 2068.4 1514.4 2070.0 1514.7C2071.6 1515.0 2073.3 1515.4 2074.9 1515.7C2076.5 1516.0 2078.1 1516.3 2079.8 1516.5C2081.4 1516.8 2083.5 1517.1 2084.7 1517.3C2085.8 1517.4 2086.0 1517.5 2086.7 1517.5C2087.3 1517.6 2088.0 1517.7 2088.6 1517.8C2089.3 1517.8 2089.9 1517.9 2090.6 1518.0C2091.3 1518.0 2091.9 1518.1 2092.6 1518.1C2093.3 1518.2 2093.9 1518.2 2094.6 1518.3C2095.2 1518.3 2095.9 1518.4 2096.6 1518.4C2097.2 1518.5 2097.9 1518.5 2098.6 1518.5C2099.2 1518.5 2099.9 1518.6 2100.6 1518.6C2101.2 1518.6 2101.9 1518.6 2102.6 1518.6C2103.2 1518.7 2103.9 1518.7 2104.6 1518.7C2105.2 1518.7 2105.9 1518.7 2106.6 1518.7C2107.2 1518.7 2107.9 1518.7 2108.6 1518.7C2109.2 1518.7 2109.9 1518.7 2110.6 1518.6C2111.2 1518.6 2111.9 1518.6 2112.6 1518.6C2113.2 1518.6 2113.9 1518.5 2114.6 1518.5C2115.2 1518.5 2115.9 1518.4 2116.6 1518.4C2117.2 1518.4 2117.9 1518.3 2118.6 1518.3C2119.2 1518.2 2119.9 1518.2 2120.6 1518.1C2121.2 1518.1 2121.9 1518.0 2122.6 1518.0C2123.3 1517.9 2123.9 1517.9 2124.6 1517.8C2125.3 1517.8 2125.9 1517.7 2126.6 1517.6C2127.3 1517.5 2127.9 1517.5 2128.6 1517.4C2129.3 1517.3 2129.4 1517.3 2130.6 1517.2C2131.7 1517.0 2133.9 1516.8 2135.6 1516.5C2137.2 1516.3 2138.9 1516.0 2140.5 1515.8C2142.2 1515.5 2143.8 1515.2 2145.5 1514.9C2147.1 1514.6 2148.8 1514.3 2150.4 1514.0C2152.0 1513.7 2153.7 1513.3 2155.3 1513.0C2156.9 1512.6 2158.6 1512.3 2160.2 1511.9C2161.8 1511.6 2163.4 1511.2 2165.1 1510.8C2166.7 1510.5 2168.3 1510.1 2169.9 1509.7C2171.5 1509.4 2173.2 1509.0 2174.8 1508.6C2176.4 1508.3 2178.0 1507.9 2179.6 1507.5C2181.3 1507.2 2182.9 1506.8 2184.5 1506.5C2186.1 1506.1 2187.7 1505.8 2189.4 1505.4C2191.0 1505.1 2192.6 1504.8 2194.2 1504.5C2195.9 1504.2 2197.5 1503.9 2199.1 1503.6C2200.8 1503.3 2202.4 1503.0 2204.0 1502.8C2205.7 1502.5 2207.3 1502.3 2209.0 1502.1C2210.6 1501.9 2212.2 1501.7 2213.9 1501.5C2215.5 1501.4 2217.2 1501.2 2218.9 1501.1C2220.5 1501.0 2222.2 1500.9 2223.9 1500.8C2225.5 1500.8 2227.2 1500.8 2228.9 1500.8C2230.6 1500.8 2232.6 1500.8 2234.0 1500.8C2235.3 1500.9 2236.5 1501.0 2237.0 1501.0"/>
</g>
<text class="tick" transform="translate(358.1,1718) scale(0.95,1)" text-anchor="middle">350</text>
<text class="tick" transform="translate(734.1,1718) scale(0.95,1)" text-anchor="middle">400</text>
<text class="tick" transform="translate(1110.1,1718) scale(0.95,1)" text-anchor="middle">450</text>
<text class="tick" transform="translate(1486.1,1718) scale(0.95,1)" text-anchor="middle">500</text>
<text class="tick" transform="translate(1862.1,1718) scale(0.95,1)" text-anchor="middle">550</text>
<text class="tick" transform="translate(2236.1,1718) scale(0.95,1)" text-anchor="middle">600</text>
<text class="tick" transform="translate(230,1633.6) scale(0.95,1)" text-anchor="end">0</text>
<text class="tick" transform="translate(230,1348.2) scale(0.95,1)" text-anchor="end">200</text>
<text class="tick" transform="translate(230,1062.8) scale(0.95,1)" text-anchor="end">400</text>
<text class="tick" transform="translate(230,777.3) scale(0.95,1)" text-anchor="end">600</text>
<text class="tick" transform="translate(230,491.9) scale(0.95,1)" text-anchor="end">800</text>
<text class="tick" transform="translate(230,206.5) scale(0.95,1)" text-anchor="end">1000</text>
<text class="ttl" x="1260" y="1797" text-anchor="middle" letter-spacing="0.85">Wavelength(nm)</text>
<text class="ttl" transform="translate(86,787) rotate(-90)" text-anchor="middle">Intensity(a.u)</text>
<path d="M1879 123.5 H2064" stroke="#000" stroke-width="8"/>
<path d="M1876 202.5 H2061" stroke="#0000ff" stroke-width="8"/>
<path d="M1873 287 H2059" stroke="#00ff00" stroke-width="8"/>
<text class="leg" x="2143" y="142" text-anchor="middle">(a)</text>
<text class="leg" x="2141" y="221" text-anchor="middle">(b)</text>
<text class="leg" x="2140" y="302" text-anchor="middle">(c)</text>
</svg></body></html>
